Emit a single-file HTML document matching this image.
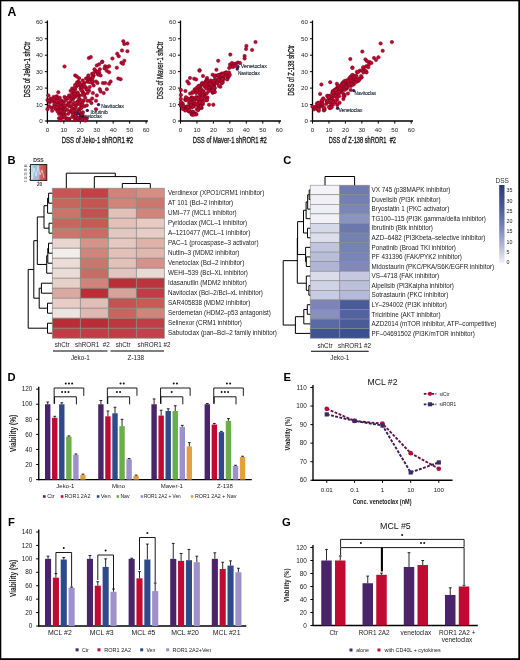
<!DOCTYPE html>
<html><head><meta charset="utf-8"><style>
html,body{margin:0;padding:0;background:#fff;}
body{width:520px;height:660px;overflow:hidden;position:relative;}
.frame{position:absolute;left:0;top:0;width:520px;height:660px;box-sizing:border-box;border-style:solid;border-color:#000;border-width:1.2px 2px 2px 1.2px;}
svg{position:absolute;left:0;top:0;filter:blur(0.35px);}
svg.brd{filter:none;}
text{font-family:"Liberation Sans", sans-serif;white-space:pre;}
</style></head><body>
<svg width="520" height="660" viewBox="0 0 520 660" shape-rendering="geometricPrecision">
<rect x="0" y="0" width="520" height="660" fill="#fff"/>
<text x="7.4" y="16.1" font-size="12.2" font-weight="bold" fill="#000">A</text>
<text x="7.60" y="164.30" font-size="11.2" text-anchor="start" fill="#000" font-weight="bold" >B</text>
<text x="283.30" y="164.30" font-size="11.2" text-anchor="start" fill="#000" font-weight="bold" >C</text>
<text x="7.60" y="380.70" font-size="11.2" text-anchor="start" fill="#000" font-weight="bold" >D</text>
<text x="283.40" y="381.00" font-size="11.2" text-anchor="start" fill="#000" font-weight="bold" >E</text>
<text x="8.00" y="526.30" font-size="11.2" text-anchor="start" fill="#000" font-weight="bold" >F</text>
<text x="282.00" y="526.30" font-size="11.2" text-anchor="start" fill="#000" font-weight="bold" >G</text>
<line x1="47.40" y1="121.60" x2="47.40" y2="20.50" stroke="#000" stroke-width="1.3" />
<line x1="46.80" y1="121.00" x2="147.90" y2="121.00" stroke="#000" stroke-width="1.3" />
<line x1="44.80" y1="121.00" x2="47.40" y2="121.00" stroke="#000" stroke-width="1.0" />
<text x="42.80" y="123.10" font-size="6.2" text-anchor="end" fill="#222" >0</text>
<line x1="47.40" y1="121.00" x2="47.40" y2="123.60" stroke="#000" stroke-width="1.0" />
<text x="47.40" y="132.30" font-size="6.2" text-anchor="middle" fill="#222" >0</text>
<line x1="44.80" y1="104.55" x2="47.40" y2="104.55" stroke="#000" stroke-width="1.0" />
<text x="42.80" y="106.65" font-size="6.2" text-anchor="end" fill="#222" >10</text>
<line x1="63.85" y1="121.00" x2="63.85" y2="123.60" stroke="#000" stroke-width="1.0" />
<text x="63.85" y="132.30" font-size="6.2" text-anchor="middle" fill="#222" >10</text>
<line x1="44.80" y1="88.10" x2="47.40" y2="88.10" stroke="#000" stroke-width="1.0" />
<text x="42.80" y="90.20" font-size="6.2" text-anchor="end" fill="#222" >20</text>
<line x1="80.30" y1="121.00" x2="80.30" y2="123.60" stroke="#000" stroke-width="1.0" />
<text x="80.30" y="132.30" font-size="6.2" text-anchor="middle" fill="#222" >20</text>
<line x1="44.80" y1="71.65" x2="47.40" y2="71.65" stroke="#000" stroke-width="1.0" />
<text x="42.80" y="73.75" font-size="6.2" text-anchor="end" fill="#222" >30</text>
<line x1="96.75" y1="121.00" x2="96.75" y2="123.60" stroke="#000" stroke-width="1.0" />
<text x="96.75" y="132.30" font-size="6.2" text-anchor="middle" fill="#222" >30</text>
<line x1="44.80" y1="55.20" x2="47.40" y2="55.20" stroke="#000" stroke-width="1.0" />
<text x="42.80" y="57.30" font-size="6.2" text-anchor="end" fill="#222" >40</text>
<line x1="113.20" y1="121.00" x2="113.20" y2="123.60" stroke="#000" stroke-width="1.0" />
<text x="113.20" y="132.30" font-size="6.2" text-anchor="middle" fill="#222" >40</text>
<line x1="44.80" y1="38.75" x2="47.40" y2="38.75" stroke="#000" stroke-width="1.0" />
<text x="42.80" y="40.85" font-size="6.2" text-anchor="end" fill="#222" >50</text>
<line x1="129.65" y1="121.00" x2="129.65" y2="123.60" stroke="#000" stroke-width="1.0" />
<text x="129.65" y="132.30" font-size="6.2" text-anchor="middle" fill="#222" >50</text>
<line x1="44.80" y1="22.30" x2="47.40" y2="22.30" stroke="#000" stroke-width="1.0" />
<text x="42.80" y="24.40" font-size="6.2" text-anchor="end" fill="#222" >60</text>
<line x1="146.10" y1="121.00" x2="146.10" y2="123.60" stroke="#000" stroke-width="1.0" />
<text x="146.10" y="132.30" font-size="6.2" text-anchor="middle" fill="#222" >60</text>
<text x="61.70" y="143.30" font-size="9.2" text-anchor="start" fill="#1a1a1a" textLength="71.50" lengthAdjust="spacingAndGlyphs" stroke="#1a1a1a" stroke-width="0.32">DSS of Jeko-1 shROR1 #2</text>
<text x="30.10" y="97.60" font-size="9.2" text-anchor="start" fill="#1a1a1a" textLength="55.80" lengthAdjust="spacingAndGlyphs" transform="rotate(-90 30.10 97.60)" stroke="#1a1a1a" stroke-width="0.32">DSS of Jeko-1 shCtr</text>
<line x1="180.50" y1="121.60" x2="180.50" y2="20.50" stroke="#000" stroke-width="1.3" />
<line x1="179.90" y1="121.00" x2="281.00" y2="121.00" stroke="#000" stroke-width="1.3" />
<line x1="177.90" y1="121.00" x2="180.50" y2="121.00" stroke="#000" stroke-width="1.0" />
<text x="175.90" y="123.10" font-size="6.2" text-anchor="end" fill="#222" >0</text>
<line x1="180.50" y1="121.00" x2="180.50" y2="123.60" stroke="#000" stroke-width="1.0" />
<text x="180.50" y="132.30" font-size="6.2" text-anchor="middle" fill="#222" >0</text>
<line x1="177.90" y1="104.55" x2="180.50" y2="104.55" stroke="#000" stroke-width="1.0" />
<text x="175.90" y="106.65" font-size="6.2" text-anchor="end" fill="#222" >10</text>
<line x1="196.95" y1="121.00" x2="196.95" y2="123.60" stroke="#000" stroke-width="1.0" />
<text x="196.95" y="132.30" font-size="6.2" text-anchor="middle" fill="#222" >10</text>
<line x1="177.90" y1="88.10" x2="180.50" y2="88.10" stroke="#000" stroke-width="1.0" />
<text x="175.90" y="90.20" font-size="6.2" text-anchor="end" fill="#222" >20</text>
<line x1="213.40" y1="121.00" x2="213.40" y2="123.60" stroke="#000" stroke-width="1.0" />
<text x="213.40" y="132.30" font-size="6.2" text-anchor="middle" fill="#222" >20</text>
<line x1="177.90" y1="71.65" x2="180.50" y2="71.65" stroke="#000" stroke-width="1.0" />
<text x="175.90" y="73.75" font-size="6.2" text-anchor="end" fill="#222" >30</text>
<line x1="229.85" y1="121.00" x2="229.85" y2="123.60" stroke="#000" stroke-width="1.0" />
<text x="229.85" y="132.30" font-size="6.2" text-anchor="middle" fill="#222" >30</text>
<line x1="177.90" y1="55.20" x2="180.50" y2="55.20" stroke="#000" stroke-width="1.0" />
<text x="175.90" y="57.30" font-size="6.2" text-anchor="end" fill="#222" >40</text>
<line x1="246.30" y1="121.00" x2="246.30" y2="123.60" stroke="#000" stroke-width="1.0" />
<text x="246.30" y="132.30" font-size="6.2" text-anchor="middle" fill="#222" >40</text>
<line x1="177.90" y1="38.75" x2="180.50" y2="38.75" stroke="#000" stroke-width="1.0" />
<text x="175.90" y="40.85" font-size="6.2" text-anchor="end" fill="#222" >50</text>
<line x1="262.75" y1="121.00" x2="262.75" y2="123.60" stroke="#000" stroke-width="1.0" />
<text x="262.75" y="132.30" font-size="6.2" text-anchor="middle" fill="#222" >50</text>
<line x1="177.90" y1="22.30" x2="180.50" y2="22.30" stroke="#000" stroke-width="1.0" />
<text x="175.90" y="24.40" font-size="6.2" text-anchor="end" fill="#222" >60</text>
<line x1="279.20" y1="121.00" x2="279.20" y2="123.60" stroke="#000" stroke-width="1.0" />
<text x="279.20" y="132.30" font-size="6.2" text-anchor="middle" fill="#222" >60</text>
<text x="192.70" y="143.30" font-size="9.2" text-anchor="start" fill="#1a1a1a" textLength="74.00" lengthAdjust="spacingAndGlyphs" stroke="#1a1a1a" stroke-width="0.32">DSS of Maver-1 shROR1 #2</text>
<text x="163.20" y="99.20" font-size="9.2" text-anchor="start" fill="#1a1a1a" textLength="57.60" lengthAdjust="spacingAndGlyphs" transform="rotate(-90 163.20 99.20)" stroke="#1a1a1a" stroke-width="0.32">DSS of Maver-1 shCtr</text>
<line x1="312.50" y1="121.60" x2="312.50" y2="20.50" stroke="#000" stroke-width="1.3" />
<line x1="311.90" y1="121.00" x2="413.00" y2="121.00" stroke="#000" stroke-width="1.3" />
<line x1="309.90" y1="121.00" x2="312.50" y2="121.00" stroke="#000" stroke-width="1.0" />
<text x="307.90" y="123.10" font-size="6.2" text-anchor="end" fill="#222" >0</text>
<line x1="312.50" y1="121.00" x2="312.50" y2="123.60" stroke="#000" stroke-width="1.0" />
<text x="312.50" y="132.30" font-size="6.2" text-anchor="middle" fill="#222" >0</text>
<line x1="309.90" y1="104.55" x2="312.50" y2="104.55" stroke="#000" stroke-width="1.0" />
<text x="307.90" y="106.65" font-size="6.2" text-anchor="end" fill="#222" >10</text>
<line x1="328.95" y1="121.00" x2="328.95" y2="123.60" stroke="#000" stroke-width="1.0" />
<text x="328.95" y="132.30" font-size="6.2" text-anchor="middle" fill="#222" >10</text>
<line x1="309.90" y1="88.10" x2="312.50" y2="88.10" stroke="#000" stroke-width="1.0" />
<text x="307.90" y="90.20" font-size="6.2" text-anchor="end" fill="#222" >20</text>
<line x1="345.40" y1="121.00" x2="345.40" y2="123.60" stroke="#000" stroke-width="1.0" />
<text x="345.40" y="132.30" font-size="6.2" text-anchor="middle" fill="#222" >20</text>
<line x1="309.90" y1="71.65" x2="312.50" y2="71.65" stroke="#000" stroke-width="1.0" />
<text x="307.90" y="73.75" font-size="6.2" text-anchor="end" fill="#222" >30</text>
<line x1="361.85" y1="121.00" x2="361.85" y2="123.60" stroke="#000" stroke-width="1.0" />
<text x="361.85" y="132.30" font-size="6.2" text-anchor="middle" fill="#222" >30</text>
<line x1="309.90" y1="55.20" x2="312.50" y2="55.20" stroke="#000" stroke-width="1.0" />
<text x="307.90" y="57.30" font-size="6.2" text-anchor="end" fill="#222" >40</text>
<line x1="378.30" y1="121.00" x2="378.30" y2="123.60" stroke="#000" stroke-width="1.0" />
<text x="378.30" y="132.30" font-size="6.2" text-anchor="middle" fill="#222" >40</text>
<line x1="309.90" y1="38.75" x2="312.50" y2="38.75" stroke="#000" stroke-width="1.0" />
<text x="307.90" y="40.85" font-size="6.2" text-anchor="end" fill="#222" >50</text>
<line x1="394.75" y1="121.00" x2="394.75" y2="123.60" stroke="#000" stroke-width="1.0" />
<text x="394.75" y="132.30" font-size="6.2" text-anchor="middle" fill="#222" >50</text>
<line x1="309.90" y1="22.30" x2="312.50" y2="22.30" stroke="#000" stroke-width="1.0" />
<text x="307.90" y="24.40" font-size="6.2" text-anchor="end" fill="#222" >60</text>
<line x1="411.20" y1="121.00" x2="411.20" y2="123.60" stroke="#000" stroke-width="1.0" />
<text x="411.20" y="132.30" font-size="6.2" text-anchor="middle" fill="#222" >60</text>
<text x="328.70" y="143.30" font-size="9.2" text-anchor="start" fill="#1a1a1a" textLength="67.30" lengthAdjust="spacingAndGlyphs" stroke="#1a1a1a" stroke-width="0.32">DSS of Z-138 shROR1  #2</text>
<text x="294.40" y="95.60" font-size="9.2" text-anchor="start" fill="#1a1a1a" textLength="50.60" lengthAdjust="spacingAndGlyphs" transform="rotate(-90 294.40 95.60)" stroke="#1a1a1a" stroke-width="0.32">DSS of Z-138 shCtr</text>
<circle cx="64.5" cy="66.5" r="1.75" fill="#c2052f" stroke="#6a061c" stroke-width="0.45"/>
<circle cx="96.8" cy="65.4" r="1.75" fill="#c2052f" stroke="#6a061c" stroke-width="0.45"/>
<circle cx="99.1" cy="64.3" r="1.75" fill="#c2052f" stroke="#6a061c" stroke-width="0.45"/>
<circle cx="102.2" cy="61.8" r="1.75" fill="#c2052f" stroke="#6a061c" stroke-width="0.45"/>
<circle cx="105.2" cy="66.2" r="1.75" fill="#c2052f" stroke="#6a061c" stroke-width="0.45"/>
<circle cx="107.5" cy="66.9" r="1.75" fill="#c2052f" stroke="#6a061c" stroke-width="0.45"/>
<circle cx="109.1" cy="66.2" r="1.75" fill="#c2052f" stroke="#6a061c" stroke-width="0.45"/>
<circle cx="116.8" cy="67.7" r="1.75" fill="#c2052f" stroke="#6a061c" stroke-width="0.45"/>
<circle cx="121.4" cy="62.8" r="1.75" fill="#c2052f" stroke="#6a061c" stroke-width="0.45"/>
<circle cx="104.5" cy="68.5" r="1.75" fill="#c2052f" stroke="#6a061c" stroke-width="0.45"/>
<circle cx="99.8" cy="69.2" r="1.75" fill="#c2052f" stroke="#6a061c" stroke-width="0.45"/>
<circle cx="106.8" cy="70.8" r="1.75" fill="#c2052f" stroke="#6a061c" stroke-width="0.45"/>
<circle cx="109.1" cy="72.3" r="1.75" fill="#c2052f" stroke="#6a061c" stroke-width="0.45"/>
<circle cx="95.2" cy="70.8" r="1.75" fill="#c2052f" stroke="#6a061c" stroke-width="0.45"/>
<circle cx="96.8" cy="72.3" r="1.75" fill="#c2052f" stroke="#6a061c" stroke-width="0.45"/>
<circle cx="98.3" cy="74.6" r="1.75" fill="#c2052f" stroke="#6a061c" stroke-width="0.45"/>
<circle cx="100.6" cy="75.4" r="1.75" fill="#c2052f" stroke="#6a061c" stroke-width="0.45"/>
<circle cx="93.7" cy="75.4" r="1.75" fill="#c2052f" stroke="#6a061c" stroke-width="0.45"/>
<circle cx="92.2" cy="77.7" r="1.75" fill="#c2052f" stroke="#6a061c" stroke-width="0.45"/>
<circle cx="90.6" cy="79.2" r="1.75" fill="#c2052f" stroke="#6a061c" stroke-width="0.45"/>
<circle cx="89.1" cy="80.0" r="1.75" fill="#c2052f" stroke="#6a061c" stroke-width="0.45"/>
<circle cx="87.5" cy="81.5" r="1.75" fill="#c2052f" stroke="#6a061c" stroke-width="0.45"/>
<circle cx="84.5" cy="83.1" r="1.75" fill="#c2052f" stroke="#6a061c" stroke-width="0.45"/>
<circle cx="82.9" cy="84.6" r="1.75" fill="#c2052f" stroke="#6a061c" stroke-width="0.45"/>
<circle cx="75.2" cy="75.4" r="1.75" fill="#c2052f" stroke="#6a061c" stroke-width="0.45"/>
<circle cx="76.8" cy="76.6" r="1.75" fill="#c2052f" stroke="#6a061c" stroke-width="0.45"/>
<circle cx="79.1" cy="78.2" r="1.75" fill="#c2052f" stroke="#6a061c" stroke-width="0.45"/>
<circle cx="86.0" cy="78.5" r="1.75" fill="#c2052f" stroke="#6a061c" stroke-width="0.45"/>
<circle cx="88.3" cy="76.9" r="1.75" fill="#c2052f" stroke="#6a061c" stroke-width="0.45"/>
<circle cx="92.2" cy="73.8" r="1.75" fill="#c2052f" stroke="#6a061c" stroke-width="0.45"/>
<circle cx="94.5" cy="69.2" r="1.75" fill="#c2052f" stroke="#6a061c" stroke-width="0.45"/>
<circle cx="118.3" cy="78.5" r="1.75" fill="#c2052f" stroke="#6a061c" stroke-width="0.45"/>
<circle cx="120.6" cy="79.2" r="1.75" fill="#c2052f" stroke="#6a061c" stroke-width="0.45"/>
<circle cx="102.9" cy="83.1" r="1.75" fill="#c2052f" stroke="#6a061c" stroke-width="0.45"/>
<circle cx="105.2" cy="83.1" r="1.75" fill="#c2052f" stroke="#6a061c" stroke-width="0.45"/>
<circle cx="109.1" cy="83.8" r="1.75" fill="#c2052f" stroke="#6a061c" stroke-width="0.45"/>
<circle cx="110.6" cy="81.5" r="1.75" fill="#c2052f" stroke="#6a061c" stroke-width="0.45"/>
<circle cx="106.8" cy="89.2" r="1.75" fill="#c2052f" stroke="#6a061c" stroke-width="0.45"/>
<circle cx="99.8" cy="89.2" r="1.75" fill="#c2052f" stroke="#6a061c" stroke-width="0.45"/>
<circle cx="100.6" cy="91.5" r="1.75" fill="#c2052f" stroke="#6a061c" stroke-width="0.45"/>
<circle cx="103.7" cy="93.1" r="1.75" fill="#c2052f" stroke="#6a061c" stroke-width="0.45"/>
<circle cx="96.0" cy="81.5" r="1.75" fill="#c2052f" stroke="#6a061c" stroke-width="0.45"/>
<circle cx="97.5" cy="83.1" r="1.75" fill="#c2052f" stroke="#6a061c" stroke-width="0.45"/>
<circle cx="92.2" cy="83.1" r="1.75" fill="#c2052f" stroke="#6a061c" stroke-width="0.45"/>
<circle cx="93.7" cy="85.4" r="1.75" fill="#c2052f" stroke="#6a061c" stroke-width="0.45"/>
<circle cx="89.8" cy="86.9" r="1.75" fill="#c2052f" stroke="#6a061c" stroke-width="0.45"/>
<circle cx="86.0" cy="87.7" r="1.75" fill="#c2052f" stroke="#6a061c" stroke-width="0.45"/>
<circle cx="81.4" cy="86.2" r="1.75" fill="#c2052f" stroke="#6a061c" stroke-width="0.45"/>
<circle cx="78.3" cy="81.5" r="1.75" fill="#c2052f" stroke="#6a061c" stroke-width="0.45"/>
<circle cx="79.8" cy="83.1" r="1.75" fill="#c2052f" stroke="#6a061c" stroke-width="0.45"/>
<circle cx="80.6" cy="88.5" r="1.75" fill="#c2052f" stroke="#6a061c" stroke-width="0.45"/>
<circle cx="76.8" cy="86.2" r="1.75" fill="#c2052f" stroke="#6a061c" stroke-width="0.45"/>
<circle cx="75.2" cy="89.2" r="1.75" fill="#c2052f" stroke="#6a061c" stroke-width="0.45"/>
<circle cx="72.2" cy="88.5" r="1.75" fill="#c2052f" stroke="#6a061c" stroke-width="0.45"/>
<circle cx="70.6" cy="90.8" r="1.75" fill="#c2052f" stroke="#6a061c" stroke-width="0.45"/>
<circle cx="73.7" cy="92.3" r="1.75" fill="#c2052f" stroke="#6a061c" stroke-width="0.45"/>
<circle cx="76.8" cy="93.8" r="1.75" fill="#c2052f" stroke="#6a061c" stroke-width="0.45"/>
<circle cx="79.1" cy="95.4" r="1.75" fill="#c2052f" stroke="#6a061c" stroke-width="0.45"/>
<circle cx="82.9" cy="92.3" r="1.75" fill="#c2052f" stroke="#6a061c" stroke-width="0.45"/>
<circle cx="84.5" cy="94.6" r="1.75" fill="#c2052f" stroke="#6a061c" stroke-width="0.45"/>
<circle cx="87.5" cy="93.1" r="1.75" fill="#c2052f" stroke="#6a061c" stroke-width="0.45"/>
<circle cx="89.1" cy="90.8" r="1.75" fill="#c2052f" stroke="#6a061c" stroke-width="0.45"/>
<circle cx="92.9" cy="93.1" r="1.75" fill="#c2052f" stroke="#6a061c" stroke-width="0.45"/>
<circle cx="96.8" cy="95.4" r="1.75" fill="#c2052f" stroke="#6a061c" stroke-width="0.45"/>
<circle cx="96.0" cy="100.8" r="1.75" fill="#c2052f" stroke="#6a061c" stroke-width="0.45"/>
<circle cx="92.2" cy="98.5" r="1.75" fill="#c2052f" stroke="#6a061c" stroke-width="0.45"/>
<circle cx="89.8" cy="100.8" r="1.75" fill="#c2052f" stroke="#6a061c" stroke-width="0.45"/>
<circle cx="91.4" cy="103.1" r="1.75" fill="#c2052f" stroke="#6a061c" stroke-width="0.45"/>
<circle cx="87.5" cy="100.8" r="1.75" fill="#c2052f" stroke="#6a061c" stroke-width="0.45"/>
<circle cx="85.2" cy="97.7" r="1.75" fill="#c2052f" stroke="#6a061c" stroke-width="0.45"/>
<circle cx="83.7" cy="100.8" r="1.75" fill="#c2052f" stroke="#6a061c" stroke-width="0.45"/>
<circle cx="82.2" cy="103.1" r="1.75" fill="#c2052f" stroke="#6a061c" stroke-width="0.45"/>
<circle cx="79.1" cy="98.5" r="1.75" fill="#c2052f" stroke="#6a061c" stroke-width="0.45"/>
<circle cx="77.5" cy="101.5" r="1.75" fill="#c2052f" stroke="#6a061c" stroke-width="0.45"/>
<circle cx="75.2" cy="96.9" r="1.75" fill="#c2052f" stroke="#6a061c" stroke-width="0.45"/>
<circle cx="72.9" cy="99.2" r="1.75" fill="#c2052f" stroke="#6a061c" stroke-width="0.45"/>
<circle cx="69.1" cy="95.4" r="1.75" fill="#c2052f" stroke="#6a061c" stroke-width="0.45"/>
<circle cx="64.5" cy="96.9" r="1.75" fill="#c2052f" stroke="#6a061c" stroke-width="0.45"/>
<circle cx="58.3" cy="92.3" r="1.75" fill="#c2052f" stroke="#6a061c" stroke-width="0.45"/>
<circle cx="59.8" cy="97.7" r="1.75" fill="#c2052f" stroke="#6a061c" stroke-width="0.45"/>
<circle cx="56.8" cy="96.2" r="1.75" fill="#c2052f" stroke="#6a061c" stroke-width="0.45"/>
<circle cx="53.7" cy="96.9" r="1.75" fill="#c2052f" stroke="#6a061c" stroke-width="0.45"/>
<circle cx="50.6" cy="98.5" r="1.75" fill="#c2052f" stroke="#6a061c" stroke-width="0.45"/>
<circle cx="48.3" cy="95.4" r="1.75" fill="#c2052f" stroke="#6a061c" stroke-width="0.45"/>
<circle cx="47.5" cy="100.0" r="1.75" fill="#c2052f" stroke="#6a061c" stroke-width="0.45"/>
<circle cx="49.8" cy="102.3" r="1.75" fill="#c2052f" stroke="#6a061c" stroke-width="0.45"/>
<circle cx="52.9" cy="100.8" r="1.75" fill="#c2052f" stroke="#6a061c" stroke-width="0.45"/>
<circle cx="55.2" cy="103.1" r="1.75" fill="#c2052f" stroke="#6a061c" stroke-width="0.45"/>
<circle cx="58.3" cy="102.3" r="1.75" fill="#c2052f" stroke="#6a061c" stroke-width="0.45"/>
<circle cx="61.4" cy="100.8" r="1.75" fill="#c2052f" stroke="#6a061c" stroke-width="0.45"/>
<circle cx="63.7" cy="102.3" r="1.75" fill="#c2052f" stroke="#6a061c" stroke-width="0.45"/>
<circle cx="66.0" cy="100.0" r="1.75" fill="#c2052f" stroke="#6a061c" stroke-width="0.45"/>
<circle cx="68.3" cy="103.1" r="1.75" fill="#c2052f" stroke="#6a061c" stroke-width="0.45"/>
<circle cx="70.6" cy="101.5" r="1.75" fill="#c2052f" stroke="#6a061c" stroke-width="0.45"/>
<circle cx="72.9" cy="104.6" r="1.75" fill="#c2052f" stroke="#6a061c" stroke-width="0.45"/>
<circle cx="76.0" cy="105.4" r="1.75" fill="#c2052f" stroke="#6a061c" stroke-width="0.45"/>
<circle cx="78.3" cy="103.8" r="1.75" fill="#c2052f" stroke="#6a061c" stroke-width="0.45"/>
<circle cx="81.4" cy="106.2" r="1.75" fill="#c2052f" stroke="#6a061c" stroke-width="0.45"/>
<circle cx="84.5" cy="106.2" r="1.75" fill="#c2052f" stroke="#6a061c" stroke-width="0.45"/>
<circle cx="86.8" cy="105.4" r="1.75" fill="#c2052f" stroke="#6a061c" stroke-width="0.45"/>
<circle cx="79.1" cy="109.2" r="1.75" fill="#c2052f" stroke="#6a061c" stroke-width="0.45"/>
<circle cx="76.8" cy="111.5" r="1.75" fill="#c2052f" stroke="#6a061c" stroke-width="0.45"/>
<circle cx="74.5" cy="108.5" r="1.75" fill="#c2052f" stroke="#6a061c" stroke-width="0.45"/>
<circle cx="71.4" cy="106.9" r="1.75" fill="#c2052f" stroke="#6a061c" stroke-width="0.45"/>
<circle cx="69.1" cy="106.2" r="1.75" fill="#c2052f" stroke="#6a061c" stroke-width="0.45"/>
<circle cx="66.0" cy="105.4" r="1.75" fill="#c2052f" stroke="#6a061c" stroke-width="0.45"/>
<circle cx="62.9" cy="106.2" r="1.75" fill="#c2052f" stroke="#6a061c" stroke-width="0.45"/>
<circle cx="60.6" cy="104.6" r="1.75" fill="#c2052f" stroke="#6a061c" stroke-width="0.45"/>
<circle cx="57.5" cy="106.2" r="1.75" fill="#c2052f" stroke="#6a061c" stroke-width="0.45"/>
<circle cx="54.5" cy="106.2" r="1.75" fill="#c2052f" stroke="#6a061c" stroke-width="0.45"/>
<circle cx="51.4" cy="107.7" r="1.75" fill="#c2052f" stroke="#6a061c" stroke-width="0.45"/>
<circle cx="49.1" cy="106.2" r="1.75" fill="#c2052f" stroke="#6a061c" stroke-width="0.45"/>
<circle cx="47.5" cy="109.2" r="1.75" fill="#c2052f" stroke="#6a061c" stroke-width="0.45"/>
<circle cx="52.2" cy="110.8" r="1.75" fill="#c2052f" stroke="#6a061c" stroke-width="0.45"/>
<circle cx="56.0" cy="109.2" r="1.75" fill="#c2052f" stroke="#6a061c" stroke-width="0.45"/>
<circle cx="59.1" cy="110.8" r="1.75" fill="#c2052f" stroke="#6a061c" stroke-width="0.45"/>
<circle cx="62.2" cy="109.2" r="1.75" fill="#c2052f" stroke="#6a061c" stroke-width="0.45"/>
<circle cx="64.5" cy="110.8" r="1.75" fill="#c2052f" stroke="#6a061c" stroke-width="0.45"/>
<circle cx="67.5" cy="110.0" r="1.75" fill="#c2052f" stroke="#6a061c" stroke-width="0.45"/>
<circle cx="70.6" cy="111.5" r="1.75" fill="#c2052f" stroke="#6a061c" stroke-width="0.45"/>
<circle cx="72.9" cy="113.1" r="1.75" fill="#c2052f" stroke="#6a061c" stroke-width="0.45"/>
<circle cx="68.3" cy="113.8" r="1.75" fill="#c2052f" stroke="#6a061c" stroke-width="0.45"/>
<circle cx="65.2" cy="114.6" r="1.75" fill="#c2052f" stroke="#6a061c" stroke-width="0.45"/>
<circle cx="61.4" cy="113.8" r="1.75" fill="#c2052f" stroke="#6a061c" stroke-width="0.45"/>
<circle cx="62.9" cy="117.7" r="1.75" fill="#c2052f" stroke="#6a061c" stroke-width="0.45"/>
<circle cx="66.0" cy="118.5" r="1.75" fill="#c2052f" stroke="#6a061c" stroke-width="0.45"/>
<circle cx="69.1" cy="119.2" r="1.75" fill="#c2052f" stroke="#6a061c" stroke-width="0.45"/>
<circle cx="72.2" cy="116.9" r="1.75" fill="#c2052f" stroke="#6a061c" stroke-width="0.45"/>
<circle cx="75.2" cy="120.0" r="1.75" fill="#c2052f" stroke="#6a061c" stroke-width="0.45"/>
<circle cx="78.3" cy="118.5" r="1.75" fill="#c2052f" stroke="#6a061c" stroke-width="0.45"/>
<circle cx="80.6" cy="113.8" r="1.75" fill="#c2052f" stroke="#6a061c" stroke-width="0.45"/>
<circle cx="82.9" cy="112.3" r="1.75" fill="#c2052f" stroke="#6a061c" stroke-width="0.45"/>
<circle cx="81.4" cy="116.9" r="1.75" fill="#c2052f" stroke="#6a061c" stroke-width="0.45"/>
<circle cx="84.5" cy="119.2" r="1.75" fill="#c2052f" stroke="#6a061c" stroke-width="0.45"/>
<circle cx="86.8" cy="118.5" r="1.75" fill="#c2052f" stroke="#6a061c" stroke-width="0.45"/>
<circle cx="96.0" cy="109.2" r="1.75" fill="#c2052f" stroke="#6a061c" stroke-width="0.45"/>
<circle cx="123.3" cy="41.2" r="1.75" fill="#c2052f" stroke="#6a061c" stroke-width="0.45"/>
<circle cx="124.3" cy="44.0" r="1.75" fill="#c2052f" stroke="#6a061c" stroke-width="0.45"/>
<circle cx="127.4" cy="43.5" r="1.75" fill="#c2052f" stroke="#6a061c" stroke-width="0.45"/>
<circle cx="122.0" cy="50.4" r="1.75" fill="#c2052f" stroke="#6a061c" stroke-width="0.45"/>
<circle cx="127.4" cy="51.2" r="1.75" fill="#c2052f" stroke="#6a061c" stroke-width="0.45"/>
<circle cx="117.2" cy="53.7" r="1.75" fill="#c2052f" stroke="#6a061c" stroke-width="0.45"/>
<circle cx="118.7" cy="56.2" r="1.75" fill="#c2052f" stroke="#6a061c" stroke-width="0.45"/>
<circle cx="112.4" cy="58.5" r="1.75" fill="#c2052f" stroke="#6a061c" stroke-width="0.45"/>
<circle cx="88.9" cy="58.1" r="1.75" fill="#c2052f" stroke="#6a061c" stroke-width="0.45"/>
<circle cx="90.8" cy="57.1" r="1.75" fill="#c2052f" stroke="#6a061c" stroke-width="0.45"/>
<circle cx="124.3" cy="60.8" r="1.75" fill="#c2052f" stroke="#6a061c" stroke-width="0.45"/>
<circle cx="123.0" cy="63.8" r="1.75" fill="#c2052f" stroke="#6a061c" stroke-width="0.45"/>
<circle cx="102.2" cy="61.9" r="1.75" fill="#c2052f" stroke="#6a061c" stroke-width="0.45"/>
<circle cx="80.5" cy="86.1" r="1.75" fill="#c2052f" stroke="#6a061c" stroke-width="0.45"/>
<circle cx="75.8" cy="111.5" r="1.75" fill="#c2052f" stroke="#6a061c" stroke-width="0.45"/>
<circle cx="84.4" cy="118.1" r="1.75" fill="#c2052f" stroke="#6a061c" stroke-width="0.45"/>
<circle cx="82.2" cy="87.8" r="1.75" fill="#c2052f" stroke="#6a061c" stroke-width="0.45"/>
<circle cx="71.0" cy="110.9" r="1.75" fill="#c2052f" stroke="#6a061c" stroke-width="0.45"/>
<circle cx="65.6" cy="98.0" r="1.75" fill="#c2052f" stroke="#6a061c" stroke-width="0.45"/>
<circle cx="84.8" cy="86.5" r="1.75" fill="#c2052f" stroke="#6a061c" stroke-width="0.45"/>
<circle cx="86.6" cy="89.5" r="1.75" fill="#c2052f" stroke="#6a061c" stroke-width="0.45"/>
<circle cx="71.2" cy="98.2" r="1.75" fill="#c2052f" stroke="#6a061c" stroke-width="0.45"/>
<circle cx="77.0" cy="82.5" r="1.75" fill="#c2052f" stroke="#6a061c" stroke-width="0.45"/>
<circle cx="68.3" cy="97.6" r="1.75" fill="#c2052f" stroke="#6a061c" stroke-width="0.45"/>
<circle cx="80.1" cy="114.1" r="1.75" fill="#c2052f" stroke="#6a061c" stroke-width="0.45"/>
<circle cx="88.6" cy="81.8" r="1.75" fill="#c2052f" stroke="#6a061c" stroke-width="0.45"/>
<circle cx="99.2" cy="72.5" r="1.75" fill="#c2052f" stroke="#6a061c" stroke-width="0.45"/>
<circle cx="75.6" cy="107.6" r="1.75" fill="#c2052f" stroke="#6a061c" stroke-width="0.45"/>
<circle cx="59.6" cy="102.8" r="1.75" fill="#c2052f" stroke="#6a061c" stroke-width="0.45"/>
<circle cx="82.4" cy="91.1" r="1.75" fill="#c2052f" stroke="#6a061c" stroke-width="0.45"/>
<circle cx="77.9" cy="102.5" r="1.75" fill="#c2052f" stroke="#6a061c" stroke-width="0.45"/>
<circle cx="60.5" cy="104.6" r="1.75" fill="#c2052f" stroke="#6a061c" stroke-width="0.45"/>
<circle cx="85.2" cy="120.6" r="1.75" fill="#c2052f" stroke="#6a061c" stroke-width="0.45"/>
<circle cx="92.5" cy="81.7" r="1.75" fill="#c2052f" stroke="#6a061c" stroke-width="0.45"/>
<circle cx="74.2" cy="102.8" r="1.75" fill="#c2052f" stroke="#6a061c" stroke-width="0.45"/>
<circle cx="60.5" cy="108.3" r="1.75" fill="#c2052f" stroke="#6a061c" stroke-width="0.45"/>
<circle cx="74.4" cy="113.9" r="1.75" fill="#c2052f" stroke="#6a061c" stroke-width="0.45"/>
<circle cx="81.1" cy="114.6" r="1.75" fill="#c2052f" stroke="#6a061c" stroke-width="0.45"/>
<circle cx="73.1" cy="114.6" r="1.75" fill="#c2052f" stroke="#6a061c" stroke-width="0.45"/>
<circle cx="98.2" cy="74.3" r="1.75" fill="#c2052f" stroke="#6a061c" stroke-width="0.45"/>
<circle cx="82.7" cy="80.5" r="1.75" fill="#c2052f" stroke="#6a061c" stroke-width="0.45"/>
<circle cx="73.5" cy="97.1" r="1.75" fill="#c2052f" stroke="#6a061c" stroke-width="0.45"/>
<circle cx="79.7" cy="100.0" r="1.75" fill="#c2052f" stroke="#6a061c" stroke-width="0.45"/>
<circle cx="74.5" cy="87.9" r="1.75" fill="#c2052f" stroke="#6a061c" stroke-width="0.45"/>
<circle cx="62.3" cy="100.9" r="1.75" fill="#c2052f" stroke="#6a061c" stroke-width="0.45"/>
<circle cx="59.1" cy="114.1" r="1.75" fill="#c2052f" stroke="#6a061c" stroke-width="0.45"/>
<circle cx="77.6" cy="92.6" r="1.75" fill="#c2052f" stroke="#6a061c" stroke-width="0.45"/>
<circle cx="92.8" cy="74.9" r="1.75" fill="#c2052f" stroke="#6a061c" stroke-width="0.45"/>
<circle cx="59.0" cy="118.3" r="1.75" fill="#c2052f" stroke="#6a061c" stroke-width="0.45"/>
<circle cx="80.2" cy="119.8" r="1.75" fill="#c2052f" stroke="#6a061c" stroke-width="0.45"/>
<circle cx="65.0" cy="108.5" r="1.75" fill="#c2052f" stroke="#6a061c" stroke-width="0.45"/>
<circle cx="80.4" cy="108.8" r="1.75" fill="#c2052f" stroke="#6a061c" stroke-width="0.45"/>
<circle cx="68.9" cy="104.1" r="1.75" fill="#c2052f" stroke="#6a061c" stroke-width="0.45"/>
<circle cx="61.6" cy="102.3" r="1.75" fill="#c2052f" stroke="#6a061c" stroke-width="0.45"/>
<circle cx="65.5" cy="109.4" r="1.75" fill="#c2052f" stroke="#6a061c" stroke-width="0.45"/>
<circle cx="72.0" cy="110.0" r="1.75" fill="#c2052f" stroke="#6a061c" stroke-width="0.45"/>
<circle cx="74.9" cy="118.1" r="1.75" fill="#c2052f" stroke="#6a061c" stroke-width="0.45"/>
<circle cx="88.4" cy="75.4" r="1.75" fill="#c2052f" stroke="#6a061c" stroke-width="0.45"/>
<circle cx="64.1" cy="111.5" r="1.75" fill="#c2052f" stroke="#6a061c" stroke-width="0.45"/>
<circle cx="72.7" cy="96.2" r="1.75" fill="#c2052f" stroke="#6a061c" stroke-width="0.45"/>
<circle cx="80.1" cy="117.3" r="1.75" fill="#c2052f" stroke="#6a061c" stroke-width="0.45"/>
<circle cx="76.2" cy="113.9" r="1.75" fill="#c2052f" stroke="#6a061c" stroke-width="0.45"/>
<circle cx="92.7" cy="77.6" r="1.75" fill="#c2052f" stroke="#6a061c" stroke-width="0.45"/>
<circle cx="68.1" cy="98.3" r="1.75" fill="#c2052f" stroke="#6a061c" stroke-width="0.45"/>
<circle cx="63.5" cy="116.1" r="1.75" fill="#c2052f" stroke="#6a061c" stroke-width="0.45"/>
<circle cx="72.9" cy="91.2" r="1.75" fill="#c2052f" stroke="#6a061c" stroke-width="0.45"/>
<circle cx="82.5" cy="115.7" r="1.75" fill="#c2052f" stroke="#6a061c" stroke-width="0.45"/>
<circle cx="75.7" cy="116.5" r="1.75" fill="#c2052f" stroke="#6a061c" stroke-width="0.45"/>
<circle cx="79.1" cy="95.3" r="1.75" fill="#c2052f" stroke="#6a061c" stroke-width="0.45"/>
<circle cx="71.7" cy="94.5" r="1.75" fill="#c2052f" stroke="#6a061c" stroke-width="0.45"/>
<circle cx="81.6" cy="107.8" r="1.75" fill="#c2052f" stroke="#6a061c" stroke-width="0.45"/>
<circle cx="83.7" cy="93.8" r="1.75" fill="#c2052f" stroke="#6a061c" stroke-width="0.45"/>
<circle cx="79.5" cy="104.1" r="1.75" fill="#c2052f" stroke="#6a061c" stroke-width="0.45"/>
<circle cx="77.0" cy="95.3" r="1.75" fill="#c2052f" stroke="#6a061c" stroke-width="0.45"/>
<circle cx="78.1" cy="117.8" r="1.75" fill="#c2052f" stroke="#6a061c" stroke-width="0.45"/>
<circle cx="81.5" cy="117.9" r="1.75" fill="#c2052f" stroke="#6a061c" stroke-width="0.45"/>
<circle cx="93.3" cy="73.5" r="1.75" fill="#c2052f" stroke="#6a061c" stroke-width="0.45"/>
<circle cx="61.1" cy="102.8" r="1.75" fill="#c2052f" stroke="#6a061c" stroke-width="0.45"/>
<circle cx="64.5" cy="105.4" r="1.75" fill="#c2052f" stroke="#6a061c" stroke-width="0.45"/>
<circle cx="67.2" cy="118.4" r="1.75" fill="#c2052f" stroke="#6a061c" stroke-width="0.45"/>
<circle cx="74.7" cy="92.8" r="1.75" fill="#c2052f" stroke="#6a061c" stroke-width="0.45"/>
<circle cx="79.7" cy="84.7" r="1.75" fill="#c2052f" stroke="#6a061c" stroke-width="0.45"/>
<circle cx="81.3" cy="90.2" r="1.75" fill="#c2052f" stroke="#6a061c" stroke-width="0.45"/>
<circle cx="84.2" cy="94.2" r="1.75" fill="#c2052f" stroke="#6a061c" stroke-width="0.45"/>
<circle cx="60.7" cy="120.2" r="1.75" fill="#c2052f" stroke="#6a061c" stroke-width="0.45"/>
<circle cx="59.7" cy="108.8" r="1.75" fill="#c2052f" stroke="#6a061c" stroke-width="0.45"/>
<circle cx="75.7" cy="116.1" r="1.75" fill="#c2052f" stroke="#6a061c" stroke-width="0.45"/>
<circle cx="92.4" cy="80.2" r="1.75" fill="#c2052f" stroke="#6a061c" stroke-width="0.45"/>
<circle cx="64.3" cy="116.6" r="1.75" fill="#c2052f" stroke="#6a061c" stroke-width="0.45"/>
<circle cx="82.0" cy="104.5" r="1.75" fill="#c2052f" stroke="#6a061c" stroke-width="0.45"/>
<circle cx="86.9" cy="89.4" r="1.75" fill="#c2052f" stroke="#6a061c" stroke-width="0.45"/>
<circle cx="61.0" cy="117.6" r="1.75" fill="#c2052f" stroke="#6a061c" stroke-width="0.45"/>
<circle cx="61.5" cy="113.1" r="1.75" fill="#c2052f" stroke="#6a061c" stroke-width="0.45"/>
<circle cx="60.8" cy="113.5" r="1.75" fill="#c2052f" stroke="#6a061c" stroke-width="0.45"/>
<circle cx="77.1" cy="84.7" r="1.75" fill="#c2052f" stroke="#6a061c" stroke-width="0.45"/>
<circle cx="81.2" cy="117.0" r="1.75" fill="#c2052f" stroke="#6a061c" stroke-width="0.45"/>
<circle cx="89.9" cy="81.9" r="1.75" fill="#c2052f" stroke="#6a061c" stroke-width="0.45"/>
<circle cx="97.3" cy="71.8" r="1.75" fill="#c2052f" stroke="#6a061c" stroke-width="0.45"/>
<circle cx="78.8" cy="111.9" r="1.75" fill="#c2052f" stroke="#6a061c" stroke-width="0.45"/>
<circle cx="74.5" cy="93.9" r="1.75" fill="#c2052f" stroke="#6a061c" stroke-width="0.45"/>
<circle cx="72.4" cy="111.8" r="1.75" fill="#c2052f" stroke="#6a061c" stroke-width="0.45"/>
<circle cx="75.0" cy="85.1" r="1.75" fill="#c2052f" stroke="#6a061c" stroke-width="0.45"/>
<circle cx="61.0" cy="106.7" r="1.75" fill="#c2052f" stroke="#6a061c" stroke-width="0.45"/>
<circle cx="61.5" cy="112.3" r="1.75" fill="#c2052f" stroke="#6a061c" stroke-width="0.45"/>
<circle cx="69.1" cy="118.9" r="1.75" fill="#c2052f" stroke="#6a061c" stroke-width="0.45"/>
<circle cx="68.3" cy="119.1" r="1.75" fill="#c2052f" stroke="#6a061c" stroke-width="0.45"/>
<circle cx="77.9" cy="93.7" r="1.75" fill="#c2052f" stroke="#6a061c" stroke-width="0.45"/>
<circle cx="82.6" cy="95.1" r="1.75" fill="#c2052f" stroke="#6a061c" stroke-width="0.45"/>
<circle cx="59.8" cy="111.9" r="1.75" fill="#c2052f" stroke="#6a061c" stroke-width="0.45"/>
<circle cx="79.2" cy="111.9" r="1.75" fill="#c2052f" stroke="#6a061c" stroke-width="0.45"/>
<circle cx="82.5" cy="115.1" r="1.75" fill="#c2052f" stroke="#6a061c" stroke-width="0.45"/>
<circle cx="62.4" cy="112.0" r="1.75" fill="#c2052f" stroke="#6a061c" stroke-width="0.45"/>
<circle cx="81.5" cy="100.5" r="1.75" fill="#c2052f" stroke="#6a061c" stroke-width="0.45"/>
<circle cx="56.1" cy="107.2" r="1.75" fill="#c2052f" stroke="#6a061c" stroke-width="0.45"/>
<circle cx="58.4" cy="108.2" r="1.75" fill="#c2052f" stroke="#6a061c" stroke-width="0.45"/>
<circle cx="54.5" cy="105.0" r="1.75" fill="#c2052f" stroke="#6a061c" stroke-width="0.45"/>
<circle cx="56.6" cy="98.0" r="1.75" fill="#c2052f" stroke="#6a061c" stroke-width="0.45"/>
<circle cx="57.6" cy="100.8" r="1.75" fill="#c2052f" stroke="#6a061c" stroke-width="0.45"/>
<circle cx="49.0" cy="101.0" r="1.75" fill="#c2052f" stroke="#6a061c" stroke-width="0.45"/>
<circle cx="57.5" cy="100.1" r="1.75" fill="#c2052f" stroke="#6a061c" stroke-width="0.45"/>
<circle cx="57.6" cy="111.6" r="1.75" fill="#c2052f" stroke="#6a061c" stroke-width="0.45"/>
<circle cx="54.4" cy="102.7" r="1.75" fill="#c2052f" stroke="#6a061c" stroke-width="0.45"/>
<circle cx="54.2" cy="107.3" r="1.75" fill="#c2052f" stroke="#6a061c" stroke-width="0.45"/>
<circle cx="58.0" cy="106.3" r="1.75" fill="#c2052f" stroke="#6a061c" stroke-width="0.45"/>
<circle cx="56.4" cy="98.2" r="1.75" fill="#c2052f" stroke="#6a061c" stroke-width="0.45"/>
<circle cx="49.9" cy="100.8" r="1.75" fill="#c2052f" stroke="#6a061c" stroke-width="0.45"/>
<circle cx="57.7" cy="101.6" r="1.75" fill="#c2052f" stroke="#6a061c" stroke-width="0.45"/>
<circle cx="55.4" cy="97.2" r="1.75" fill="#c2052f" stroke="#6a061c" stroke-width="0.45"/>
<circle cx="48.8" cy="101.0" r="1.75" fill="#c2052f" stroke="#6a061c" stroke-width="0.45"/>
<circle cx="56.7" cy="107.4" r="1.75" fill="#c2052f" stroke="#6a061c" stroke-width="0.45"/>
<circle cx="56.8" cy="101.4" r="1.75" fill="#c2052f" stroke="#6a061c" stroke-width="0.45"/>
<circle cx="54.7" cy="104.0" r="1.75" fill="#c2052f" stroke="#6a061c" stroke-width="0.45"/>
<circle cx="54.1" cy="98.8" r="1.75" fill="#c2052f" stroke="#6a061c" stroke-width="0.45"/>
<circle cx="59.6" cy="100.0" r="1.75" fill="#c2052f" stroke="#6a061c" stroke-width="0.45"/>
<circle cx="60.7" cy="111.0" r="1.75" fill="#c2052f" stroke="#6a061c" stroke-width="0.45"/>
<circle cx="98.5" cy="104.6" r="1.7" fill="#34205a"/>
<circle cx="87.3" cy="110.4" r="1.7" fill="#34205a"/>
<circle cx="77.5" cy="113.6" r="1.7" fill="#34205a"/>
<text x="101.2" y="107.5" font-size="5.8" fill="#14202e" stroke="#14202e" stroke-width="0.15" textLength="22.8" lengthAdjust="spacingAndGlyphs">Navitoclax</text>
<text x="90.6" y="113.8" font-size="5.8" fill="#14202e" stroke="#14202e" stroke-width="0.15" textLength="17.2" lengthAdjust="spacingAndGlyphs">Ibrutinib</text>
<text x="79.3" y="117.8" font-size="5.8" fill="#14202e" stroke="#14202e" stroke-width="0.15" textLength="22.5" lengthAdjust="spacingAndGlyphs">Venetoclax</text>
<circle cx="255.5" cy="42.1" r="1.75" fill="#c2052f" stroke="#6a061c" stroke-width="0.45"/>
<circle cx="246.4" cy="45.9" r="1.75" fill="#c2052f" stroke="#6a061c" stroke-width="0.45"/>
<circle cx="246.0" cy="49.0" r="1.75" fill="#c2052f" stroke="#6a061c" stroke-width="0.45"/>
<circle cx="252.1" cy="49.9" r="1.75" fill="#c2052f" stroke="#6a061c" stroke-width="0.45"/>
<circle cx="244.6" cy="56.0" r="1.75" fill="#c2052f" stroke="#6a061c" stroke-width="0.45"/>
<circle cx="244.6" cy="58.6" r="1.75" fill="#c2052f" stroke="#6a061c" stroke-width="0.45"/>
<circle cx="230.3" cy="54.6" r="1.75" fill="#c2052f" stroke="#6a061c" stroke-width="0.45"/>
<circle cx="218.2" cy="60.8" r="1.75" fill="#c2052f" stroke="#6a061c" stroke-width="0.45"/>
<circle cx="199.6" cy="70.2" r="1.75" fill="#c2052f" stroke="#6a061c" stroke-width="0.45"/>
<circle cx="216.4" cy="69.8" r="1.75" fill="#c2052f" stroke="#6a061c" stroke-width="0.45"/>
<circle cx="229.2" cy="67.9" r="1.75" fill="#c2052f" stroke="#6a061c" stroke-width="0.45"/>
<circle cx="227.5" cy="78.8" r="1.75" fill="#c2052f" stroke="#6a061c" stroke-width="0.45"/>
<circle cx="230.0" cy="64.5" r="1.75" fill="#c2052f" stroke="#6a061c" stroke-width="0.45"/>
<circle cx="232.0" cy="63.0" r="1.75" fill="#c2052f" stroke="#6a061c" stroke-width="0.45"/>
<circle cx="234.0" cy="64.0" r="1.75" fill="#c2052f" stroke="#6a061c" stroke-width="0.45"/>
<circle cx="236.0" cy="63.5" r="1.75" fill="#c2052f" stroke="#6a061c" stroke-width="0.45"/>
<circle cx="238.0" cy="62.5" r="1.75" fill="#c2052f" stroke="#6a061c" stroke-width="0.45"/>
<circle cx="240.0" cy="63.0" r="1.75" fill="#c2052f" stroke="#6a061c" stroke-width="0.45"/>
<circle cx="231.0" cy="66.5" r="1.75" fill="#c2052f" stroke="#6a061c" stroke-width="0.45"/>
<circle cx="233.0" cy="67.0" r="1.75" fill="#c2052f" stroke="#6a061c" stroke-width="0.45"/>
<circle cx="235.0" cy="66.0" r="1.75" fill="#c2052f" stroke="#6a061c" stroke-width="0.45"/>
<circle cx="187.4" cy="81.4" r="1.75" fill="#c2052f" stroke="#6a061c" stroke-width="0.45"/>
<circle cx="188.8" cy="83.5" r="1.75" fill="#c2052f" stroke="#6a061c" stroke-width="0.45"/>
<circle cx="194.2" cy="78.7" r="1.75" fill="#c2052f" stroke="#6a061c" stroke-width="0.45"/>
<circle cx="196.2" cy="79.4" r="1.75" fill="#c2052f" stroke="#6a061c" stroke-width="0.45"/>
<circle cx="185.4" cy="90.9" r="1.75" fill="#c2052f" stroke="#6a061c" stroke-width="0.45"/>
<circle cx="209.0" cy="104.7" r="1.75" fill="#c2052f" stroke="#6a061c" stroke-width="0.45"/>
<circle cx="213.3" cy="104.7" r="1.75" fill="#c2052f" stroke="#6a061c" stroke-width="0.45"/>
<circle cx="227.1" cy="79.4" r="1.75" fill="#c2052f" stroke="#6a061c" stroke-width="0.45"/>
<circle cx="220.4" cy="86.8" r="1.75" fill="#c2052f" stroke="#6a061c" stroke-width="0.45"/>
<circle cx="214.3" cy="91.5" r="1.75" fill="#c2052f" stroke="#6a061c" stroke-width="0.45"/>
<circle cx="199.5" cy="70.7" r="1.75" fill="#c2052f" stroke="#6a061c" stroke-width="0.45"/>
<circle cx="180.9" cy="90.0" r="1.75" fill="#c2052f" stroke="#6a061c" stroke-width="0.45"/>
<circle cx="180.9" cy="95.0" r="1.75" fill="#c2052f" stroke="#6a061c" stroke-width="0.45"/>
<circle cx="180.9" cy="99.0" r="1.75" fill="#c2052f" stroke="#6a061c" stroke-width="0.45"/>
<circle cx="212.6" cy="74.7" r="1.75" fill="#c2052f" stroke="#6a061c" stroke-width="0.45"/>
<circle cx="215.0" cy="75.5" r="1.75" fill="#c2052f" stroke="#6a061c" stroke-width="0.45"/>
<circle cx="217.5" cy="75.8" r="1.75" fill="#c2052f" stroke="#6a061c" stroke-width="0.45"/>
<circle cx="220.0" cy="74.5" r="1.75" fill="#c2052f" stroke="#6a061c" stroke-width="0.45"/>
<circle cx="222.0" cy="73.5" r="1.75" fill="#c2052f" stroke="#6a061c" stroke-width="0.45"/>
<circle cx="224.5" cy="73.0" r="1.75" fill="#c2052f" stroke="#6a061c" stroke-width="0.45"/>
<circle cx="226.0" cy="75.0" r="1.75" fill="#c2052f" stroke="#6a061c" stroke-width="0.45"/>
<circle cx="190.0" cy="78.0" r="1.75" fill="#c2052f" stroke="#6a061c" stroke-width="0.45"/>
<circle cx="203.0" cy="76.0" r="1.75" fill="#c2052f" stroke="#6a061c" stroke-width="0.45"/>
<circle cx="207.0" cy="78.0" r="1.75" fill="#c2052f" stroke="#6a061c" stroke-width="0.45"/>
<circle cx="203.7" cy="83.4" r="1.75" fill="#c2052f" stroke="#6a061c" stroke-width="0.45"/>
<circle cx="191.4" cy="113.9" r="1.75" fill="#c2052f" stroke="#6a061c" stroke-width="0.45"/>
<circle cx="191.5" cy="97.5" r="1.75" fill="#c2052f" stroke="#6a061c" stroke-width="0.45"/>
<circle cx="192.5" cy="111.8" r="1.75" fill="#c2052f" stroke="#6a061c" stroke-width="0.45"/>
<circle cx="203.7" cy="84.9" r="1.75" fill="#c2052f" stroke="#6a061c" stroke-width="0.45"/>
<circle cx="196.9" cy="109.2" r="1.75" fill="#c2052f" stroke="#6a061c" stroke-width="0.45"/>
<circle cx="180.8" cy="105.2" r="1.75" fill="#c2052f" stroke="#6a061c" stroke-width="0.45"/>
<circle cx="223.6" cy="76.7" r="1.75" fill="#c2052f" stroke="#6a061c" stroke-width="0.45"/>
<circle cx="199.7" cy="89.0" r="1.75" fill="#c2052f" stroke="#6a061c" stroke-width="0.45"/>
<circle cx="199.1" cy="90.6" r="1.75" fill="#c2052f" stroke="#6a061c" stroke-width="0.45"/>
<circle cx="185.9" cy="108.9" r="1.75" fill="#c2052f" stroke="#6a061c" stroke-width="0.45"/>
<circle cx="195.3" cy="113.5" r="1.75" fill="#c2052f" stroke="#6a061c" stroke-width="0.45"/>
<circle cx="206.8" cy="79.9" r="1.75" fill="#c2052f" stroke="#6a061c" stroke-width="0.45"/>
<circle cx="228.1" cy="77.0" r="1.75" fill="#c2052f" stroke="#6a061c" stroke-width="0.45"/>
<circle cx="204.8" cy="86.8" r="1.75" fill="#c2052f" stroke="#6a061c" stroke-width="0.45"/>
<circle cx="195.9" cy="104.6" r="1.75" fill="#c2052f" stroke="#6a061c" stroke-width="0.45"/>
<circle cx="214.2" cy="84.9" r="1.75" fill="#c2052f" stroke="#6a061c" stroke-width="0.45"/>
<circle cx="209.2" cy="89.1" r="1.75" fill="#c2052f" stroke="#6a061c" stroke-width="0.45"/>
<circle cx="191.3" cy="112.2" r="1.75" fill="#c2052f" stroke="#6a061c" stroke-width="0.45"/>
<circle cx="206.1" cy="81.2" r="1.75" fill="#c2052f" stroke="#6a061c" stroke-width="0.45"/>
<circle cx="201.8" cy="94.9" r="1.75" fill="#c2052f" stroke="#6a061c" stroke-width="0.45"/>
<circle cx="200.0" cy="86.6" r="1.75" fill="#c2052f" stroke="#6a061c" stroke-width="0.45"/>
<circle cx="206.4" cy="99.7" r="1.75" fill="#c2052f" stroke="#6a061c" stroke-width="0.45"/>
<circle cx="201.1" cy="91.4" r="1.75" fill="#c2052f" stroke="#6a061c" stroke-width="0.45"/>
<circle cx="182.3" cy="103.3" r="1.75" fill="#c2052f" stroke="#6a061c" stroke-width="0.45"/>
<circle cx="204.1" cy="96.2" r="1.75" fill="#c2052f" stroke="#6a061c" stroke-width="0.45"/>
<circle cx="182.7" cy="106.6" r="1.75" fill="#c2052f" stroke="#6a061c" stroke-width="0.45"/>
<circle cx="192.6" cy="112.8" r="1.75" fill="#c2052f" stroke="#6a061c" stroke-width="0.45"/>
<circle cx="213.7" cy="85.0" r="1.75" fill="#c2052f" stroke="#6a061c" stroke-width="0.45"/>
<circle cx="207.5" cy="97.6" r="1.75" fill="#c2052f" stroke="#6a061c" stroke-width="0.45"/>
<circle cx="196.1" cy="92.1" r="1.75" fill="#c2052f" stroke="#6a061c" stroke-width="0.45"/>
<circle cx="202.2" cy="82.9" r="1.75" fill="#c2052f" stroke="#6a061c" stroke-width="0.45"/>
<circle cx="198.0" cy="90.3" r="1.75" fill="#c2052f" stroke="#6a061c" stroke-width="0.45"/>
<circle cx="215.6" cy="80.2" r="1.75" fill="#c2052f" stroke="#6a061c" stroke-width="0.45"/>
<circle cx="206.5" cy="80.6" r="1.75" fill="#c2052f" stroke="#6a061c" stroke-width="0.45"/>
<circle cx="222.6" cy="81.7" r="1.75" fill="#c2052f" stroke="#6a061c" stroke-width="0.45"/>
<circle cx="192.0" cy="105.6" r="1.75" fill="#c2052f" stroke="#6a061c" stroke-width="0.45"/>
<circle cx="195.8" cy="114.2" r="1.75" fill="#c2052f" stroke="#6a061c" stroke-width="0.45"/>
<circle cx="214.7" cy="88.4" r="1.75" fill="#c2052f" stroke="#6a061c" stroke-width="0.45"/>
<circle cx="199.8" cy="86.3" r="1.75" fill="#c2052f" stroke="#6a061c" stroke-width="0.45"/>
<circle cx="198.9" cy="108.4" r="1.75" fill="#c2052f" stroke="#6a061c" stroke-width="0.45"/>
<circle cx="226.5" cy="72.7" r="1.75" fill="#c2052f" stroke="#6a061c" stroke-width="0.45"/>
<circle cx="201.7" cy="107.9" r="1.75" fill="#c2052f" stroke="#6a061c" stroke-width="0.45"/>
<circle cx="194.1" cy="103.6" r="1.75" fill="#c2052f" stroke="#6a061c" stroke-width="0.45"/>
<circle cx="180.9" cy="105.4" r="1.75" fill="#c2052f" stroke="#6a061c" stroke-width="0.45"/>
<circle cx="228.9" cy="72.4" r="1.75" fill="#c2052f" stroke="#6a061c" stroke-width="0.45"/>
<circle cx="192.7" cy="92.7" r="1.75" fill="#c2052f" stroke="#6a061c" stroke-width="0.45"/>
<circle cx="202.7" cy="93.6" r="1.75" fill="#c2052f" stroke="#6a061c" stroke-width="0.45"/>
<circle cx="211.7" cy="86.1" r="1.75" fill="#c2052f" stroke="#6a061c" stroke-width="0.45"/>
<circle cx="197.0" cy="87.6" r="1.75" fill="#c2052f" stroke="#6a061c" stroke-width="0.45"/>
<circle cx="220.7" cy="74.9" r="1.75" fill="#c2052f" stroke="#6a061c" stroke-width="0.45"/>
<circle cx="190.8" cy="105.3" r="1.75" fill="#c2052f" stroke="#6a061c" stroke-width="0.45"/>
<circle cx="214.7" cy="76.8" r="1.75" fill="#c2052f" stroke="#6a061c" stroke-width="0.45"/>
<circle cx="209.7" cy="88.1" r="1.75" fill="#c2052f" stroke="#6a061c" stroke-width="0.45"/>
<circle cx="218.4" cy="80.3" r="1.75" fill="#c2052f" stroke="#6a061c" stroke-width="0.45"/>
<circle cx="188.5" cy="111.2" r="1.75" fill="#c2052f" stroke="#6a061c" stroke-width="0.45"/>
<circle cx="210.3" cy="86.0" r="1.75" fill="#c2052f" stroke="#6a061c" stroke-width="0.45"/>
<circle cx="206.6" cy="81.7" r="1.75" fill="#c2052f" stroke="#6a061c" stroke-width="0.45"/>
<circle cx="194.0" cy="106.4" r="1.75" fill="#c2052f" stroke="#6a061c" stroke-width="0.45"/>
<circle cx="229.0" cy="76.1" r="1.75" fill="#c2052f" stroke="#6a061c" stroke-width="0.45"/>
<circle cx="193.7" cy="98.3" r="1.75" fill="#c2052f" stroke="#6a061c" stroke-width="0.45"/>
<circle cx="214.0" cy="80.5" r="1.75" fill="#c2052f" stroke="#6a061c" stroke-width="0.45"/>
<circle cx="215.4" cy="79.7" r="1.75" fill="#c2052f" stroke="#6a061c" stroke-width="0.45"/>
<circle cx="200.9" cy="96.1" r="1.75" fill="#c2052f" stroke="#6a061c" stroke-width="0.45"/>
<circle cx="189.1" cy="102.7" r="1.75" fill="#c2052f" stroke="#6a061c" stroke-width="0.45"/>
<circle cx="201.6" cy="84.1" r="1.75" fill="#c2052f" stroke="#6a061c" stroke-width="0.45"/>
<circle cx="196.4" cy="114.3" r="1.75" fill="#c2052f" stroke="#6a061c" stroke-width="0.45"/>
<circle cx="196.7" cy="96.9" r="1.75" fill="#c2052f" stroke="#6a061c" stroke-width="0.45"/>
<circle cx="199.0" cy="90.1" r="1.75" fill="#c2052f" stroke="#6a061c" stroke-width="0.45"/>
<circle cx="217.9" cy="80.5" r="1.75" fill="#c2052f" stroke="#6a061c" stroke-width="0.45"/>
<circle cx="185.2" cy="99.4" r="1.75" fill="#c2052f" stroke="#6a061c" stroke-width="0.45"/>
<circle cx="199.7" cy="94.1" r="1.75" fill="#c2052f" stroke="#6a061c" stroke-width="0.45"/>
<circle cx="222.8" cy="78.5" r="1.75" fill="#c2052f" stroke="#6a061c" stroke-width="0.45"/>
<circle cx="220.9" cy="81.3" r="1.75" fill="#c2052f" stroke="#6a061c" stroke-width="0.45"/>
<circle cx="223.1" cy="79.6" r="1.75" fill="#c2052f" stroke="#6a061c" stroke-width="0.45"/>
<circle cx="207.2" cy="88.6" r="1.75" fill="#c2052f" stroke="#6a061c" stroke-width="0.45"/>
<circle cx="223.5" cy="76.6" r="1.75" fill="#c2052f" stroke="#6a061c" stroke-width="0.45"/>
<circle cx="212.7" cy="85.1" r="1.75" fill="#c2052f" stroke="#6a061c" stroke-width="0.45"/>
<circle cx="202.2" cy="97.6" r="1.75" fill="#c2052f" stroke="#6a061c" stroke-width="0.45"/>
<circle cx="202.5" cy="101.0" r="1.75" fill="#c2052f" stroke="#6a061c" stroke-width="0.45"/>
<circle cx="203.5" cy="91.1" r="1.75" fill="#c2052f" stroke="#6a061c" stroke-width="0.45"/>
<circle cx="205.7" cy="81.9" r="1.75" fill="#c2052f" stroke="#6a061c" stroke-width="0.45"/>
<circle cx="206.5" cy="88.3" r="1.75" fill="#c2052f" stroke="#6a061c" stroke-width="0.45"/>
<circle cx="219.3" cy="78.5" r="1.75" fill="#c2052f" stroke="#6a061c" stroke-width="0.45"/>
<circle cx="222.4" cy="77.8" r="1.75" fill="#c2052f" stroke="#6a061c" stroke-width="0.45"/>
<circle cx="206.6" cy="85.7" r="1.75" fill="#c2052f" stroke="#6a061c" stroke-width="0.45"/>
<circle cx="189.3" cy="106.7" r="1.75" fill="#c2052f" stroke="#6a061c" stroke-width="0.45"/>
<circle cx="213.2" cy="87.5" r="1.75" fill="#c2052f" stroke="#6a061c" stroke-width="0.45"/>
<circle cx="212.9" cy="89.1" r="1.75" fill="#c2052f" stroke="#6a061c" stroke-width="0.45"/>
<circle cx="221.5" cy="83.2" r="1.75" fill="#c2052f" stroke="#6a061c" stroke-width="0.45"/>
<circle cx="199.1" cy="105.8" r="1.75" fill="#c2052f" stroke="#6a061c" stroke-width="0.45"/>
<circle cx="222.6" cy="82.7" r="1.75" fill="#c2052f" stroke="#6a061c" stroke-width="0.45"/>
<circle cx="212.2" cy="90.8" r="1.75" fill="#c2052f" stroke="#6a061c" stroke-width="0.45"/>
<circle cx="192.2" cy="97.6" r="1.75" fill="#c2052f" stroke="#6a061c" stroke-width="0.45"/>
<circle cx="210.8" cy="80.5" r="1.75" fill="#c2052f" stroke="#6a061c" stroke-width="0.45"/>
<circle cx="212.6" cy="92.7" r="1.75" fill="#c2052f" stroke="#6a061c" stroke-width="0.45"/>
<circle cx="185.6" cy="100.1" r="1.75" fill="#c2052f" stroke="#6a061c" stroke-width="0.45"/>
<circle cx="209.4" cy="87.1" r="1.75" fill="#c2052f" stroke="#6a061c" stroke-width="0.45"/>
<circle cx="213.7" cy="91.3" r="1.75" fill="#c2052f" stroke="#6a061c" stroke-width="0.45"/>
<circle cx="193.4" cy="112.0" r="1.75" fill="#c2052f" stroke="#6a061c" stroke-width="0.45"/>
<circle cx="183.7" cy="106.4" r="1.75" fill="#c2052f" stroke="#6a061c" stroke-width="0.45"/>
<circle cx="190.9" cy="98.7" r="1.75" fill="#c2052f" stroke="#6a061c" stroke-width="0.45"/>
<circle cx="206.6" cy="100.2" r="1.75" fill="#c2052f" stroke="#6a061c" stroke-width="0.45"/>
<circle cx="222.3" cy="79.2" r="1.75" fill="#c2052f" stroke="#6a061c" stroke-width="0.45"/>
<circle cx="197.8" cy="105.1" r="1.75" fill="#c2052f" stroke="#6a061c" stroke-width="0.45"/>
<circle cx="217.1" cy="83.3" r="1.75" fill="#c2052f" stroke="#6a061c" stroke-width="0.45"/>
<circle cx="209.0" cy="91.0" r="1.75" fill="#c2052f" stroke="#6a061c" stroke-width="0.45"/>
<circle cx="194.3" cy="100.3" r="1.75" fill="#c2052f" stroke="#6a061c" stroke-width="0.45"/>
<circle cx="218.8" cy="86.0" r="1.75" fill="#c2052f" stroke="#6a061c" stroke-width="0.45"/>
<circle cx="192.9" cy="112.2" r="1.75" fill="#c2052f" stroke="#6a061c" stroke-width="0.45"/>
<circle cx="203.0" cy="104.0" r="1.75" fill="#c2052f" stroke="#6a061c" stroke-width="0.45"/>
<circle cx="209.8" cy="85.2" r="1.75" fill="#c2052f" stroke="#6a061c" stroke-width="0.45"/>
<circle cx="191.5" cy="99.4" r="1.75" fill="#c2052f" stroke="#6a061c" stroke-width="0.45"/>
<circle cx="199.3" cy="108.2" r="1.75" fill="#c2052f" stroke="#6a061c" stroke-width="0.45"/>
<circle cx="213.0" cy="84.3" r="1.75" fill="#c2052f" stroke="#6a061c" stroke-width="0.45"/>
<circle cx="219.4" cy="80.5" r="1.75" fill="#c2052f" stroke="#6a061c" stroke-width="0.45"/>
<circle cx="197.0" cy="90.4" r="1.75" fill="#c2052f" stroke="#6a061c" stroke-width="0.45"/>
<circle cx="195.1" cy="103.6" r="1.75" fill="#c2052f" stroke="#6a061c" stroke-width="0.45"/>
<circle cx="199.5" cy="85.8" r="1.75" fill="#c2052f" stroke="#6a061c" stroke-width="0.45"/>
<circle cx="198.4" cy="103.1" r="1.75" fill="#c2052f" stroke="#6a061c" stroke-width="0.45"/>
<circle cx="208.2" cy="81.1" r="1.75" fill="#c2052f" stroke="#6a061c" stroke-width="0.45"/>
<circle cx="224.8" cy="75.4" r="1.75" fill="#c2052f" stroke="#6a061c" stroke-width="0.45"/>
<circle cx="222.6" cy="79.0" r="1.75" fill="#c2052f" stroke="#6a061c" stroke-width="0.45"/>
<circle cx="190.1" cy="93.6" r="1.75" fill="#c2052f" stroke="#6a061c" stroke-width="0.45"/>
<circle cx="198.4" cy="108.8" r="1.75" fill="#c2052f" stroke="#6a061c" stroke-width="0.45"/>
<circle cx="194.0" cy="113.9" r="1.75" fill="#c2052f" stroke="#6a061c" stroke-width="0.45"/>
<circle cx="186.3" cy="100.0" r="1.75" fill="#c2052f" stroke="#6a061c" stroke-width="0.45"/>
<circle cx="184.8" cy="106.8" r="1.75" fill="#c2052f" stroke="#6a061c" stroke-width="0.45"/>
<circle cx="212.8" cy="87.3" r="1.75" fill="#c2052f" stroke="#6a061c" stroke-width="0.45"/>
<circle cx="201.2" cy="89.1" r="1.75" fill="#c2052f" stroke="#6a061c" stroke-width="0.45"/>
<circle cx="226.2" cy="75.2" r="1.75" fill="#c2052f" stroke="#6a061c" stroke-width="0.45"/>
<circle cx="226.1" cy="72.4" r="1.75" fill="#c2052f" stroke="#6a061c" stroke-width="0.45"/>
<circle cx="192.6" cy="92.1" r="1.75" fill="#c2052f" stroke="#6a061c" stroke-width="0.45"/>
<circle cx="198.5" cy="86.0" r="1.75" fill="#c2052f" stroke="#6a061c" stroke-width="0.45"/>
<circle cx="188.6" cy="109.3" r="1.75" fill="#c2052f" stroke="#6a061c" stroke-width="0.45"/>
<circle cx="190.7" cy="100.1" r="1.75" fill="#c2052f" stroke="#6a061c" stroke-width="0.45"/>
<circle cx="201.1" cy="107.0" r="1.75" fill="#c2052f" stroke="#6a061c" stroke-width="0.45"/>
<circle cx="213.0" cy="92.2" r="1.75" fill="#c2052f" stroke="#6a061c" stroke-width="0.45"/>
<circle cx="187.9" cy="98.5" r="1.75" fill="#c2052f" stroke="#6a061c" stroke-width="0.45"/>
<circle cx="201.4" cy="104.7" r="1.75" fill="#c2052f" stroke="#6a061c" stroke-width="0.45"/>
<circle cx="213.5" cy="91.8" r="1.75" fill="#c2052f" stroke="#6a061c" stroke-width="0.45"/>
<circle cx="196.7" cy="99.6" r="1.75" fill="#c2052f" stroke="#6a061c" stroke-width="0.45"/>
<circle cx="212.9" cy="82.6" r="1.75" fill="#c2052f" stroke="#6a061c" stroke-width="0.45"/>
<circle cx="202.3" cy="91.8" r="1.75" fill="#c2052f" stroke="#6a061c" stroke-width="0.45"/>
<circle cx="212.5" cy="89.8" r="1.75" fill="#c2052f" stroke="#6a061c" stroke-width="0.45"/>
<circle cx="190.1" cy="100.8" r="1.75" fill="#c2052f" stroke="#6a061c" stroke-width="0.45"/>
<circle cx="188.9" cy="106.6" r="1.75" fill="#c2052f" stroke="#6a061c" stroke-width="0.45"/>
<circle cx="185.9" cy="97.2" r="1.75" fill="#c2052f" stroke="#6a061c" stroke-width="0.45"/>
<circle cx="206.9" cy="100.1" r="1.75" fill="#c2052f" stroke="#6a061c" stroke-width="0.45"/>
<circle cx="191.4" cy="102.2" r="1.75" fill="#c2052f" stroke="#6a061c" stroke-width="0.45"/>
<circle cx="200.8" cy="105.7" r="1.75" fill="#c2052f" stroke="#6a061c" stroke-width="0.45"/>
<circle cx="194.7" cy="89.3" r="1.75" fill="#c2052f" stroke="#6a061c" stroke-width="0.45"/>
<circle cx="202.2" cy="102.8" r="1.75" fill="#c2052f" stroke="#6a061c" stroke-width="0.45"/>
<circle cx="192.2" cy="104.7" r="1.75" fill="#c2052f" stroke="#6a061c" stroke-width="0.45"/>
<circle cx="191.9" cy="107.4" r="1.75" fill="#c2052f" stroke="#6a061c" stroke-width="0.45"/>
<circle cx="187.3" cy="106.3" r="1.75" fill="#c2052f" stroke="#6a061c" stroke-width="0.45"/>
<circle cx="204.7" cy="96.6" r="1.75" fill="#c2052f" stroke="#6a061c" stroke-width="0.45"/>
<circle cx="192.2" cy="114.8" r="1.75" fill="#c2052f" stroke="#6a061c" stroke-width="0.45"/>
<circle cx="198.7" cy="100.1" r="1.75" fill="#c2052f" stroke="#6a061c" stroke-width="0.45"/>
<circle cx="204.6" cy="84.6" r="1.75" fill="#c2052f" stroke="#6a061c" stroke-width="0.45"/>
<circle cx="180.8" cy="103.9" r="1.75" fill="#c2052f" stroke="#6a061c" stroke-width="0.45"/>
<circle cx="196.1" cy="92.9" r="1.75" fill="#c2052f" stroke="#6a061c" stroke-width="0.45"/>
<circle cx="202.6" cy="100.0" r="1.75" fill="#c2052f" stroke="#6a061c" stroke-width="0.45"/>
<circle cx="214.4" cy="87.6" r="1.75" fill="#c2052f" stroke="#6a061c" stroke-width="0.45"/>
<circle cx="183.6" cy="108.6" r="1.75" fill="#c2052f" stroke="#6a061c" stroke-width="0.45"/>
<circle cx="187.9" cy="108.8" r="1.75" fill="#c2052f" stroke="#6a061c" stroke-width="0.45"/>
<circle cx="214.2" cy="82.6" r="1.75" fill="#c2052f" stroke="#6a061c" stroke-width="0.45"/>
<circle cx="192.6" cy="106.3" r="1.75" fill="#c2052f" stroke="#6a061c" stroke-width="0.45"/>
<circle cx="189.3" cy="111.5" r="1.75" fill="#c2052f" stroke="#6a061c" stroke-width="0.45"/>
<circle cx="190.8" cy="102.5" r="1.75" fill="#c2052f" stroke="#6a061c" stroke-width="0.45"/>
<circle cx="209.1" cy="83.2" r="1.75" fill="#c2052f" stroke="#6a061c" stroke-width="0.45"/>
<circle cx="205.8" cy="93.8" r="1.75" fill="#c2052f" stroke="#6a061c" stroke-width="0.45"/>
<circle cx="204.6" cy="96.7" r="1.75" fill="#c2052f" stroke="#6a061c" stroke-width="0.45"/>
<circle cx="199.9" cy="90.2" r="1.75" fill="#c2052f" stroke="#6a061c" stroke-width="0.45"/>
<circle cx="229.8" cy="74.7" r="1.75" fill="#c2052f" stroke="#6a061c" stroke-width="0.45"/>
<circle cx="206.8" cy="93.2" r="1.75" fill="#c2052f" stroke="#6a061c" stroke-width="0.45"/>
<circle cx="226.6" cy="72.8" r="1.75" fill="#c2052f" stroke="#6a061c" stroke-width="0.45"/>
<circle cx="198.0" cy="110.2" r="1.75" fill="#c2052f" stroke="#6a061c" stroke-width="0.45"/>
<circle cx="199.4" cy="92.7" r="1.75" fill="#c2052f" stroke="#6a061c" stroke-width="0.45"/>
<circle cx="202.3" cy="96.3" r="1.75" fill="#c2052f" stroke="#6a061c" stroke-width="0.45"/>
<circle cx="206.4" cy="83.6" r="1.75" fill="#c2052f" stroke="#6a061c" stroke-width="0.45"/>
<circle cx="196.0" cy="97.7" r="1.75" fill="#c2052f" stroke="#6a061c" stroke-width="0.45"/>
<circle cx="182.7" cy="103.9" r="1.75" fill="#c2052f" stroke="#6a061c" stroke-width="0.45"/>
<circle cx="215.5" cy="80.9" r="1.75" fill="#c2052f" stroke="#6a061c" stroke-width="0.45"/>
<circle cx="214.8" cy="92.0" r="1.75" fill="#c2052f" stroke="#6a061c" stroke-width="0.45"/>
<circle cx="219.7" cy="75.9" r="1.75" fill="#c2052f" stroke="#6a061c" stroke-width="0.45"/>
<circle cx="214.2" cy="87.9" r="1.75" fill="#c2052f" stroke="#6a061c" stroke-width="0.45"/>
<circle cx="209.4" cy="82.9" r="1.75" fill="#c2052f" stroke="#6a061c" stroke-width="0.45"/>
<circle cx="196.1" cy="90.3" r="1.75" fill="#c2052f" stroke="#6a061c" stroke-width="0.45"/>
<circle cx="197.0" cy="90.7" r="1.75" fill="#c2052f" stroke="#6a061c" stroke-width="0.45"/>
<circle cx="213.6" cy="80.9" r="1.75" fill="#c2052f" stroke="#6a061c" stroke-width="0.45"/>
<circle cx="180.9" cy="102.1" r="1.75" fill="#c2052f" stroke="#6a061c" stroke-width="0.45"/>
<circle cx="185.2" cy="110.5" r="1.75" fill="#c2052f" stroke="#6a061c" stroke-width="0.45"/>
<circle cx="217.5" cy="82.2" r="1.75" fill="#c2052f" stroke="#6a061c" stroke-width="0.45"/>
<circle cx="218.2" cy="79.8" r="1.75" fill="#c2052f" stroke="#6a061c" stroke-width="0.45"/>
<circle cx="183.3" cy="106.2" r="1.75" fill="#c2052f" stroke="#6a061c" stroke-width="0.45"/>
<circle cx="218.0" cy="75.1" r="1.75" fill="#c2052f" stroke="#6a061c" stroke-width="0.45"/>
<circle cx="193.7" cy="114.8" r="1.75" fill="#c2052f" stroke="#6a061c" stroke-width="0.45"/>
<circle cx="222.5" cy="74.9" r="1.75" fill="#c2052f" stroke="#6a061c" stroke-width="0.45"/>
<circle cx="196.6" cy="104.2" r="1.75" fill="#c2052f" stroke="#6a061c" stroke-width="0.45"/>
<circle cx="189.2" cy="110.1" r="1.75" fill="#c2052f" stroke="#6a061c" stroke-width="0.45"/>
<circle cx="199.5" cy="97.2" r="1.75" fill="#c2052f" stroke="#6a061c" stroke-width="0.45"/>
<circle cx="203.1" cy="101.8" r="1.75" fill="#c2052f" stroke="#6a061c" stroke-width="0.45"/>
<circle cx="188.1" cy="107.3" r="1.75" fill="#c2052f" stroke="#6a061c" stroke-width="0.45"/>
<circle cx="199.3" cy="100.4" r="1.75" fill="#c2052f" stroke="#6a061c" stroke-width="0.45"/>
<circle cx="212.9" cy="90.2" r="1.75" fill="#c2052f" stroke="#6a061c" stroke-width="0.45"/>
<circle cx="200.4" cy="106.8" r="1.75" fill="#c2052f" stroke="#6a061c" stroke-width="0.45"/>
<circle cx="209.7" cy="84.5" r="1.75" fill="#c2052f" stroke="#6a061c" stroke-width="0.45"/>
<circle cx="197.7" cy="98.6" r="1.75" fill="#c2052f" stroke="#6a061c" stroke-width="0.45"/>
<circle cx="211.4" cy="85.2" r="1.75" fill="#c2052f" stroke="#6a061c" stroke-width="0.45"/>
<circle cx="199.9" cy="102.2" r="1.75" fill="#c2052f" stroke="#6a061c" stroke-width="0.45"/>
<circle cx="202.3" cy="97.8" r="1.75" fill="#c2052f" stroke="#6a061c" stroke-width="0.45"/>
<circle cx="182.9" cy="108.9" r="1.75" fill="#c2052f" stroke="#6a061c" stroke-width="0.45"/>
<circle cx="209.9" cy="83.7" r="1.75" fill="#c2052f" stroke="#6a061c" stroke-width="0.45"/>
<circle cx="190.9" cy="105.1" r="1.75" fill="#c2052f" stroke="#6a061c" stroke-width="0.45"/>
<circle cx="237.9" cy="66.7" r="1.7" fill="#34205a"/>
<circle cx="237.3" cy="69.0" r="1.7" fill="#34205a"/>
<text x="240.8" y="68.2" font-size="5.8" fill="#14202e" stroke="#14202e" stroke-width="0.15" textLength="26" lengthAdjust="spacingAndGlyphs">Venetoclax</text>
<text x="237.9" y="74.5" font-size="5.6" fill="#14202e" stroke="#14202e" stroke-width="0.15" textLength="22" lengthAdjust="spacingAndGlyphs">Navitoclax</text>
<circle cx="391.9" cy="42.1" r="1.75" fill="#c2052f" stroke="#6a061c" stroke-width="0.45"/>
<circle cx="380.6" cy="43.5" r="1.75" fill="#c2052f" stroke="#6a061c" stroke-width="0.45"/>
<circle cx="382.7" cy="50.8" r="1.75" fill="#c2052f" stroke="#6a061c" stroke-width="0.45"/>
<circle cx="362.3" cy="51.6" r="1.75" fill="#c2052f" stroke="#6a061c" stroke-width="0.45"/>
<circle cx="378.4" cy="57.3" r="1.75" fill="#c2052f" stroke="#6a061c" stroke-width="0.45"/>
<circle cx="350.3" cy="59.1" r="1.75" fill="#c2052f" stroke="#6a061c" stroke-width="0.45"/>
<circle cx="365.4" cy="59.4" r="1.75" fill="#c2052f" stroke="#6a061c" stroke-width="0.45"/>
<circle cx="367.1" cy="61.2" r="1.75" fill="#c2052f" stroke="#6a061c" stroke-width="0.45"/>
<circle cx="369.7" cy="62.0" r="1.75" fill="#c2052f" stroke="#6a061c" stroke-width="0.45"/>
<circle cx="371.4" cy="62.9" r="1.75" fill="#c2052f" stroke="#6a061c" stroke-width="0.45"/>
<circle cx="368.8" cy="64.6" r="1.75" fill="#c2052f" stroke="#6a061c" stroke-width="0.45"/>
<circle cx="366.2" cy="66.3" r="1.75" fill="#c2052f" stroke="#6a061c" stroke-width="0.45"/>
<circle cx="352.4" cy="67.7" r="1.75" fill="#c2052f" stroke="#6a061c" stroke-width="0.45"/>
<circle cx="366.2" cy="71.5" r="1.75" fill="#c2052f" stroke="#6a061c" stroke-width="0.45"/>
<circle cx="321.4" cy="84.5" r="1.75" fill="#c2052f" stroke="#6a061c" stroke-width="0.45"/>
<circle cx="330.2" cy="82.2" r="1.75" fill="#c2052f" stroke="#6a061c" stroke-width="0.45"/>
<circle cx="336.9" cy="83.8" r="1.75" fill="#c2052f" stroke="#6a061c" stroke-width="0.45"/>
<circle cx="320.1" cy="93.9" r="1.75" fill="#c2052f" stroke="#6a061c" stroke-width="0.45"/>
<circle cx="352.4" cy="67.7" r="1.75" fill="#c2052f" stroke="#6a061c" stroke-width="0.45"/>
<circle cx="366.5" cy="72.4" r="1.75" fill="#c2052f" stroke="#6a061c" stroke-width="0.45"/>
<circle cx="374.0" cy="58.0" r="1.75" fill="#c2052f" stroke="#6a061c" stroke-width="0.45"/>
<circle cx="376.0" cy="60.0" r="1.75" fill="#c2052f" stroke="#6a061c" stroke-width="0.45"/>
<circle cx="326.5" cy="100.8" r="1.75" fill="#c2052f" stroke="#6a061c" stroke-width="0.45"/>
<circle cx="317.0" cy="103.5" r="1.75" fill="#c2052f" stroke="#6a061c" stroke-width="0.45"/>
<circle cx="356.0" cy="75.7" r="1.75" fill="#c2052f" stroke="#6a061c" stroke-width="0.45"/>
<circle cx="339.2" cy="93.0" r="1.75" fill="#c2052f" stroke="#6a061c" stroke-width="0.45"/>
<circle cx="332.7" cy="91.8" r="1.75" fill="#c2052f" stroke="#6a061c" stroke-width="0.45"/>
<circle cx="334.9" cy="89.5" r="1.75" fill="#c2052f" stroke="#6a061c" stroke-width="0.45"/>
<circle cx="356.9" cy="72.0" r="1.75" fill="#c2052f" stroke="#6a061c" stroke-width="0.45"/>
<circle cx="346.0" cy="81.2" r="1.75" fill="#c2052f" stroke="#6a061c" stroke-width="0.45"/>
<circle cx="363.9" cy="67.6" r="1.75" fill="#c2052f" stroke="#6a061c" stroke-width="0.45"/>
<circle cx="346.1" cy="83.7" r="1.75" fill="#c2052f" stroke="#6a061c" stroke-width="0.45"/>
<circle cx="318.8" cy="110.8" r="1.75" fill="#c2052f" stroke="#6a061c" stroke-width="0.45"/>
<circle cx="350.2" cy="83.5" r="1.75" fill="#c2052f" stroke="#6a061c" stroke-width="0.45"/>
<circle cx="350.6" cy="78.9" r="1.75" fill="#c2052f" stroke="#6a061c" stroke-width="0.45"/>
<circle cx="314.1" cy="109.3" r="1.75" fill="#c2052f" stroke="#6a061c" stroke-width="0.45"/>
<circle cx="324.6" cy="109.6" r="1.75" fill="#c2052f" stroke="#6a061c" stroke-width="0.45"/>
<circle cx="317.5" cy="109.4" r="1.75" fill="#c2052f" stroke="#6a061c" stroke-width="0.45"/>
<circle cx="320.2" cy="106.6" r="1.75" fill="#c2052f" stroke="#6a061c" stroke-width="0.45"/>
<circle cx="330.1" cy="108.1" r="1.75" fill="#c2052f" stroke="#6a061c" stroke-width="0.45"/>
<circle cx="315.2" cy="107.7" r="1.75" fill="#c2052f" stroke="#6a061c" stroke-width="0.45"/>
<circle cx="363.1" cy="67.3" r="1.75" fill="#c2052f" stroke="#6a061c" stroke-width="0.45"/>
<circle cx="353.4" cy="78.7" r="1.75" fill="#c2052f" stroke="#6a061c" stroke-width="0.45"/>
<circle cx="358.0" cy="81.0" r="1.75" fill="#c2052f" stroke="#6a061c" stroke-width="0.45"/>
<circle cx="322.3" cy="101.7" r="1.75" fill="#c2052f" stroke="#6a061c" stroke-width="0.45"/>
<circle cx="346.7" cy="88.4" r="1.75" fill="#c2052f" stroke="#6a061c" stroke-width="0.45"/>
<circle cx="353.8" cy="84.2" r="1.75" fill="#c2052f" stroke="#6a061c" stroke-width="0.45"/>
<circle cx="358.2" cy="80.7" r="1.75" fill="#c2052f" stroke="#6a061c" stroke-width="0.45"/>
<circle cx="361.7" cy="77.4" r="1.75" fill="#c2052f" stroke="#6a061c" stroke-width="0.45"/>
<circle cx="322.6" cy="104.7" r="1.75" fill="#c2052f" stroke="#6a061c" stroke-width="0.45"/>
<circle cx="333.2" cy="93.2" r="1.75" fill="#c2052f" stroke="#6a061c" stroke-width="0.45"/>
<circle cx="337.4" cy="89.4" r="1.75" fill="#c2052f" stroke="#6a061c" stroke-width="0.45"/>
<circle cx="330.3" cy="98.9" r="1.75" fill="#c2052f" stroke="#6a061c" stroke-width="0.45"/>
<circle cx="333.7" cy="100.8" r="1.75" fill="#c2052f" stroke="#6a061c" stroke-width="0.45"/>
<circle cx="315.5" cy="106.7" r="1.75" fill="#c2052f" stroke="#6a061c" stroke-width="0.45"/>
<circle cx="341.3" cy="90.1" r="1.75" fill="#c2052f" stroke="#6a061c" stroke-width="0.45"/>
<circle cx="326.3" cy="104.0" r="1.75" fill="#c2052f" stroke="#6a061c" stroke-width="0.45"/>
<circle cx="344.9" cy="89.8" r="1.75" fill="#c2052f" stroke="#6a061c" stroke-width="0.45"/>
<circle cx="340.1" cy="88.7" r="1.75" fill="#c2052f" stroke="#6a061c" stroke-width="0.45"/>
<circle cx="356.3" cy="80.9" r="1.75" fill="#c2052f" stroke="#6a061c" stroke-width="0.45"/>
<circle cx="348.1" cy="82.1" r="1.75" fill="#c2052f" stroke="#6a061c" stroke-width="0.45"/>
<circle cx="336.7" cy="88.9" r="1.75" fill="#c2052f" stroke="#6a061c" stroke-width="0.45"/>
<circle cx="350.7" cy="77.7" r="1.75" fill="#c2052f" stroke="#6a061c" stroke-width="0.45"/>
<circle cx="341.7" cy="85.4" r="1.75" fill="#c2052f" stroke="#6a061c" stroke-width="0.45"/>
<circle cx="329.4" cy="95.8" r="1.75" fill="#c2052f" stroke="#6a061c" stroke-width="0.45"/>
<circle cx="344.5" cy="95.9" r="1.75" fill="#c2052f" stroke="#6a061c" stroke-width="0.45"/>
<circle cx="323.5" cy="98.8" r="1.75" fill="#c2052f" stroke="#6a061c" stroke-width="0.45"/>
<circle cx="338.3" cy="91.0" r="1.75" fill="#c2052f" stroke="#6a061c" stroke-width="0.45"/>
<circle cx="346.9" cy="87.2" r="1.75" fill="#c2052f" stroke="#6a061c" stroke-width="0.45"/>
<circle cx="333.8" cy="92.8" r="1.75" fill="#c2052f" stroke="#6a061c" stroke-width="0.45"/>
<circle cx="361.1" cy="76.0" r="1.75" fill="#c2052f" stroke="#6a061c" stroke-width="0.45"/>
<circle cx="343.7" cy="88.2" r="1.75" fill="#c2052f" stroke="#6a061c" stroke-width="0.45"/>
<circle cx="328.8" cy="101.8" r="1.75" fill="#c2052f" stroke="#6a061c" stroke-width="0.45"/>
<circle cx="337.1" cy="100.0" r="1.75" fill="#c2052f" stroke="#6a061c" stroke-width="0.45"/>
<circle cx="332.1" cy="97.1" r="1.75" fill="#c2052f" stroke="#6a061c" stroke-width="0.45"/>
<circle cx="364.1" cy="70.6" r="1.75" fill="#c2052f" stroke="#6a061c" stroke-width="0.45"/>
<circle cx="344.6" cy="84.7" r="1.75" fill="#c2052f" stroke="#6a061c" stroke-width="0.45"/>
<circle cx="346.6" cy="82.8" r="1.75" fill="#c2052f" stroke="#6a061c" stroke-width="0.45"/>
<circle cx="337.8" cy="86.6" r="1.75" fill="#c2052f" stroke="#6a061c" stroke-width="0.45"/>
<circle cx="353.2" cy="78.6" r="1.75" fill="#c2052f" stroke="#6a061c" stroke-width="0.45"/>
<circle cx="334.3" cy="91.3" r="1.75" fill="#c2052f" stroke="#6a061c" stroke-width="0.45"/>
<circle cx="340.5" cy="85.9" r="1.75" fill="#c2052f" stroke="#6a061c" stroke-width="0.45"/>
<circle cx="344.2" cy="88.5" r="1.75" fill="#c2052f" stroke="#6a061c" stroke-width="0.45"/>
<circle cx="341.5" cy="89.5" r="1.75" fill="#c2052f" stroke="#6a061c" stroke-width="0.45"/>
<circle cx="351.1" cy="83.3" r="1.75" fill="#c2052f" stroke="#6a061c" stroke-width="0.45"/>
<circle cx="332.4" cy="93.2" r="1.75" fill="#c2052f" stroke="#6a061c" stroke-width="0.45"/>
<circle cx="350.6" cy="89.9" r="1.75" fill="#c2052f" stroke="#6a061c" stroke-width="0.45"/>
<circle cx="334.9" cy="91.6" r="1.75" fill="#c2052f" stroke="#6a061c" stroke-width="0.45"/>
<circle cx="337.1" cy="94.7" r="1.75" fill="#c2052f" stroke="#6a061c" stroke-width="0.45"/>
<circle cx="341.2" cy="88.9" r="1.75" fill="#c2052f" stroke="#6a061c" stroke-width="0.45"/>
<circle cx="347.9" cy="93.6" r="1.75" fill="#c2052f" stroke="#6a061c" stroke-width="0.45"/>
<circle cx="335.5" cy="102.5" r="1.75" fill="#c2052f" stroke="#6a061c" stroke-width="0.45"/>
<circle cx="329.5" cy="97.9" r="1.75" fill="#c2052f" stroke="#6a061c" stroke-width="0.45"/>
<circle cx="340.4" cy="91.2" r="1.75" fill="#c2052f" stroke="#6a061c" stroke-width="0.45"/>
<circle cx="327.2" cy="95.7" r="1.75" fill="#c2052f" stroke="#6a061c" stroke-width="0.45"/>
<circle cx="344.7" cy="84.4" r="1.75" fill="#c2052f" stroke="#6a061c" stroke-width="0.45"/>
<circle cx="355.9" cy="80.1" r="1.75" fill="#c2052f" stroke="#6a061c" stroke-width="0.45"/>
<circle cx="352.8" cy="81.6" r="1.75" fill="#c2052f" stroke="#6a061c" stroke-width="0.45"/>
<circle cx="317.7" cy="108.2" r="1.75" fill="#c2052f" stroke="#6a061c" stroke-width="0.45"/>
<circle cx="345.2" cy="81.4" r="1.75" fill="#c2052f" stroke="#6a061c" stroke-width="0.45"/>
<circle cx="315.1" cy="107.5" r="1.75" fill="#c2052f" stroke="#6a061c" stroke-width="0.45"/>
<circle cx="337.1" cy="94.5" r="1.75" fill="#c2052f" stroke="#6a061c" stroke-width="0.45"/>
<circle cx="329.9" cy="107.9" r="1.75" fill="#c2052f" stroke="#6a061c" stroke-width="0.45"/>
<circle cx="358.5" cy="79.2" r="1.75" fill="#c2052f" stroke="#6a061c" stroke-width="0.45"/>
<circle cx="353.0" cy="75.2" r="1.75" fill="#c2052f" stroke="#6a061c" stroke-width="0.45"/>
<circle cx="329.6" cy="106.8" r="1.75" fill="#c2052f" stroke="#6a061c" stroke-width="0.45"/>
<circle cx="339.6" cy="102.8" r="1.75" fill="#c2052f" stroke="#6a061c" stroke-width="0.45"/>
<circle cx="342.4" cy="83.1" r="1.75" fill="#c2052f" stroke="#6a061c" stroke-width="0.45"/>
<circle cx="319.0" cy="104.4" r="1.75" fill="#c2052f" stroke="#6a061c" stroke-width="0.45"/>
<circle cx="349.9" cy="81.0" r="1.75" fill="#c2052f" stroke="#6a061c" stroke-width="0.45"/>
<circle cx="359.6" cy="70.7" r="1.75" fill="#c2052f" stroke="#6a061c" stroke-width="0.45"/>
<circle cx="337.3" cy="104.9" r="1.75" fill="#c2052f" stroke="#6a061c" stroke-width="0.45"/>
<circle cx="357.9" cy="72.2" r="1.75" fill="#c2052f" stroke="#6a061c" stroke-width="0.45"/>
<circle cx="332.1" cy="99.4" r="1.75" fill="#c2052f" stroke="#6a061c" stroke-width="0.45"/>
<circle cx="323.9" cy="110.4" r="1.75" fill="#c2052f" stroke="#6a061c" stroke-width="0.45"/>
<circle cx="352.3" cy="77.1" r="1.75" fill="#c2052f" stroke="#6a061c" stroke-width="0.45"/>
<circle cx="361.7" cy="70.4" r="1.75" fill="#c2052f" stroke="#6a061c" stroke-width="0.45"/>
<circle cx="341.2" cy="90.7" r="1.75" fill="#c2052f" stroke="#6a061c" stroke-width="0.45"/>
<circle cx="327.4" cy="101.8" r="1.75" fill="#c2052f" stroke="#6a061c" stroke-width="0.45"/>
<circle cx="333.9" cy="96.3" r="1.75" fill="#c2052f" stroke="#6a061c" stroke-width="0.45"/>
<circle cx="322.1" cy="105.6" r="1.75" fill="#c2052f" stroke="#6a061c" stroke-width="0.45"/>
<circle cx="330.3" cy="96.5" r="1.75" fill="#c2052f" stroke="#6a061c" stroke-width="0.45"/>
<circle cx="349.8" cy="81.5" r="1.75" fill="#c2052f" stroke="#6a061c" stroke-width="0.45"/>
<circle cx="335.5" cy="96.3" r="1.75" fill="#c2052f" stroke="#6a061c" stroke-width="0.45"/>
<circle cx="351.9" cy="76.5" r="1.75" fill="#c2052f" stroke="#6a061c" stroke-width="0.45"/>
<circle cx="318.6" cy="108.6" r="1.75" fill="#c2052f" stroke="#6a061c" stroke-width="0.45"/>
<circle cx="352.8" cy="76.8" r="1.75" fill="#c2052f" stroke="#6a061c" stroke-width="0.45"/>
<circle cx="336.8" cy="97.6" r="1.75" fill="#c2052f" stroke="#6a061c" stroke-width="0.45"/>
<circle cx="318.3" cy="102.7" r="1.75" fill="#c2052f" stroke="#6a061c" stroke-width="0.45"/>
<circle cx="324.0" cy="108.7" r="1.75" fill="#c2052f" stroke="#6a061c" stroke-width="0.45"/>
<circle cx="351.6" cy="83.5" r="1.75" fill="#c2052f" stroke="#6a061c" stroke-width="0.45"/>
<circle cx="347.8" cy="86.4" r="1.75" fill="#c2052f" stroke="#6a061c" stroke-width="0.45"/>
<circle cx="336.4" cy="89.2" r="1.75" fill="#c2052f" stroke="#6a061c" stroke-width="0.45"/>
<circle cx="364.9" cy="70.7" r="1.75" fill="#c2052f" stroke="#6a061c" stroke-width="0.45"/>
<circle cx="341.4" cy="86.0" r="1.75" fill="#c2052f" stroke="#6a061c" stroke-width="0.45"/>
<circle cx="329.1" cy="107.2" r="1.75" fill="#c2052f" stroke="#6a061c" stroke-width="0.45"/>
<circle cx="331.0" cy="103.9" r="1.75" fill="#c2052f" stroke="#6a061c" stroke-width="0.45"/>
<circle cx="346.1" cy="86.8" r="1.75" fill="#c2052f" stroke="#6a061c" stroke-width="0.45"/>
<circle cx="323.2" cy="98.4" r="1.75" fill="#c2052f" stroke="#6a061c" stroke-width="0.45"/>
<circle cx="359.9" cy="78.8" r="1.75" fill="#c2052f" stroke="#6a061c" stroke-width="0.45"/>
<circle cx="321.6" cy="102.4" r="1.75" fill="#c2052f" stroke="#6a061c" stroke-width="0.45"/>
<circle cx="359.0" cy="80.0" r="1.75" fill="#c2052f" stroke="#6a061c" stroke-width="0.45"/>
<circle cx="333.0" cy="91.1" r="1.75" fill="#c2052f" stroke="#6a061c" stroke-width="0.45"/>
<circle cx="333.0" cy="104.7" r="1.75" fill="#c2052f" stroke="#6a061c" stroke-width="0.45"/>
<circle cx="344.3" cy="94.8" r="1.75" fill="#c2052f" stroke="#6a061c" stroke-width="0.45"/>
<circle cx="340.2" cy="88.6" r="1.75" fill="#c2052f" stroke="#6a061c" stroke-width="0.45"/>
<circle cx="328.1" cy="96.5" r="1.75" fill="#c2052f" stroke="#6a061c" stroke-width="0.45"/>
<circle cx="341.3" cy="84.8" r="1.75" fill="#c2052f" stroke="#6a061c" stroke-width="0.45"/>
<circle cx="363.5" cy="72.4" r="1.75" fill="#c2052f" stroke="#6a061c" stroke-width="0.45"/>
<circle cx="344.1" cy="81.3" r="1.75" fill="#c2052f" stroke="#6a061c" stroke-width="0.45"/>
<circle cx="348.9" cy="79.0" r="1.75" fill="#c2052f" stroke="#6a061c" stroke-width="0.45"/>
<circle cx="331.6" cy="107.3" r="1.75" fill="#c2052f" stroke="#6a061c" stroke-width="0.45"/>
<circle cx="350.7" cy="86.1" r="1.75" fill="#c2052f" stroke="#6a061c" stroke-width="0.45"/>
<circle cx="333.2" cy="92.6" r="1.75" fill="#c2052f" stroke="#6a061c" stroke-width="0.45"/>
<circle cx="335.7" cy="90.1" r="1.75" fill="#c2052f" stroke="#6a061c" stroke-width="0.45"/>
<circle cx="344.2" cy="83.6" r="1.75" fill="#c2052f" stroke="#6a061c" stroke-width="0.45"/>
<circle cx="318.4" cy="106.1" r="1.75" fill="#c2052f" stroke="#6a061c" stroke-width="0.45"/>
<circle cx="339.9" cy="91.3" r="1.75" fill="#c2052f" stroke="#6a061c" stroke-width="0.45"/>
<circle cx="343.4" cy="99.0" r="1.75" fill="#c2052f" stroke="#6a061c" stroke-width="0.45"/>
<circle cx="317.8" cy="104.6" r="1.75" fill="#c2052f" stroke="#6a061c" stroke-width="0.45"/>
<circle cx="352.3" cy="85.1" r="1.75" fill="#c2052f" stroke="#6a061c" stroke-width="0.45"/>
<circle cx="321.6" cy="100.5" r="1.75" fill="#c2052f" stroke="#6a061c" stroke-width="0.45"/>
<circle cx="331.5" cy="101.4" r="1.75" fill="#c2052f" stroke="#6a061c" stroke-width="0.45"/>
<circle cx="318.4" cy="109.2" r="1.75" fill="#c2052f" stroke="#6a061c" stroke-width="0.45"/>
<circle cx="350.5" cy="76.8" r="1.75" fill="#c2052f" stroke="#6a061c" stroke-width="0.45"/>
<circle cx="318.3" cy="103.2" r="1.75" fill="#c2052f" stroke="#6a061c" stroke-width="0.45"/>
<circle cx="328.5" cy="97.7" r="1.75" fill="#c2052f" stroke="#6a061c" stroke-width="0.45"/>
<circle cx="322.4" cy="104.0" r="1.75" fill="#c2052f" stroke="#6a061c" stroke-width="0.45"/>
<circle cx="350.7" cy="83.5" r="1.75" fill="#c2052f" stroke="#6a061c" stroke-width="0.45"/>
<circle cx="324.3" cy="107.7" r="1.75" fill="#c2052f" stroke="#6a061c" stroke-width="0.45"/>
<circle cx="338.7" cy="92.4" r="1.75" fill="#c2052f" stroke="#6a061c" stroke-width="0.45"/>
<circle cx="350.2" cy="77.7" r="1.75" fill="#c2052f" stroke="#6a061c" stroke-width="0.45"/>
<circle cx="329.3" cy="101.4" r="1.75" fill="#c2052f" stroke="#6a061c" stroke-width="0.45"/>
<circle cx="348.2" cy="81.4" r="1.75" fill="#c2052f" stroke="#6a061c" stroke-width="0.45"/>
<circle cx="343.4" cy="84.1" r="1.75" fill="#c2052f" stroke="#6a061c" stroke-width="0.45"/>
<circle cx="312.4" cy="106.6" r="1.75" fill="#c2052f" stroke="#6a061c" stroke-width="0.45"/>
<circle cx="337.8" cy="86.0" r="1.75" fill="#c2052f" stroke="#6a061c" stroke-width="0.45"/>
<circle cx="332.3" cy="101.9" r="1.75" fill="#c2052f" stroke="#6a061c" stroke-width="0.45"/>
<circle cx="352.2" cy="75.0" r="1.75" fill="#c2052f" stroke="#6a061c" stroke-width="0.45"/>
<circle cx="330.6" cy="100.7" r="1.75" fill="#c2052f" stroke="#6a061c" stroke-width="0.45"/>
<circle cx="349.0" cy="84.1" r="1.75" fill="#c2052f" stroke="#6a061c" stroke-width="0.45"/>
<circle cx="350.7" cy="80.8" r="1.75" fill="#c2052f" stroke="#6a061c" stroke-width="0.45"/>
<circle cx="368.3" cy="67.2" r="1.75" fill="#c2052f" stroke="#6a061c" stroke-width="0.45"/>
<circle cx="342.7" cy="92.9" r="1.75" fill="#c2052f" stroke="#6a061c" stroke-width="0.45"/>
<circle cx="343.6" cy="96.3" r="1.75" fill="#c2052f" stroke="#6a061c" stroke-width="0.45"/>
<circle cx="346.3" cy="80.5" r="1.75" fill="#c2052f" stroke="#6a061c" stroke-width="0.45"/>
<circle cx="354.2" cy="77.0" r="1.75" fill="#c2052f" stroke="#6a061c" stroke-width="0.45"/>
<circle cx="356.2" cy="79.4" r="1.75" fill="#c2052f" stroke="#6a061c" stroke-width="0.45"/>
<circle cx="339.1" cy="96.2" r="1.75" fill="#c2052f" stroke="#6a061c" stroke-width="0.45"/>
<circle cx="356.1" cy="82.0" r="1.75" fill="#c2052f" stroke="#6a061c" stroke-width="0.45"/>
<circle cx="356.4" cy="76.2" r="1.75" fill="#c2052f" stroke="#6a061c" stroke-width="0.45"/>
<circle cx="348.3" cy="81.1" r="1.75" fill="#c2052f" stroke="#6a061c" stroke-width="0.45"/>
<circle cx="353.7" cy="90.6" r="1.7" fill="#34205a"/>
<circle cx="337.6" cy="108.3" r="1.7" fill="#34205a"/>
<text x="354.6" y="95.3" font-size="5.6" fill="#14202e" stroke="#14202e" stroke-width="0.15" textLength="21.5" lengthAdjust="spacingAndGlyphs">Navitoclax</text>
<text x="338.5" y="112.1" font-size="5.6" fill="#14202e" stroke="#14202e" stroke-width="0.15" textLength="24" lengthAdjust="spacingAndGlyphs">Venetoclax</text>
<rect x="52.30" y="188.20" width="28.00" height="10.00" fill="#c55654" stroke="#8a8a8a" stroke-width="0.7"/>
<rect x="80.30" y="188.20" width="28.00" height="10.00" fill="#c14245" stroke="#8a8a8a" stroke-width="0.7"/>
<rect x="108.30" y="188.20" width="28.00" height="10.00" fill="#d08379" stroke="#8a8a8a" stroke-width="0.7"/>
<rect x="136.30" y="188.20" width="28.00" height="10.00" fill="#d48e83" stroke="#8a8a8a" stroke-width="0.7"/>
<rect x="52.30" y="198.20" width="28.00" height="10.00" fill="#c8665c" stroke="#8a8a8a" stroke-width="0.7"/>
<rect x="80.30" y="198.20" width="28.00" height="10.00" fill="#c45652" stroke="#8a8a8a" stroke-width="0.7"/>
<rect x="108.30" y="198.20" width="28.00" height="10.00" fill="#d0857b" stroke="#8a8a8a" stroke-width="0.7"/>
<rect x="136.30" y="198.20" width="28.00" height="10.00" fill="#cc776e" stroke="#8a8a8a" stroke-width="0.7"/>
<rect x="52.30" y="208.20" width="28.00" height="10.00" fill="#cc736a" stroke="#8a8a8a" stroke-width="0.7"/>
<rect x="80.30" y="208.20" width="28.00" height="10.00" fill="#c1524d" stroke="#8a8a8a" stroke-width="0.7"/>
<rect x="108.30" y="208.20" width="28.00" height="10.00" fill="#e3c1b9" stroke="#8a8a8a" stroke-width="0.7"/>
<rect x="136.30" y="208.20" width="28.00" height="10.00" fill="#d0857b" stroke="#8a8a8a" stroke-width="0.7"/>
<rect x="52.30" y="218.20" width="28.00" height="10.00" fill="#c8665e" stroke="#8a8a8a" stroke-width="0.7"/>
<rect x="80.30" y="218.20" width="28.00" height="10.00" fill="#c45c54" stroke="#8a8a8a" stroke-width="0.7"/>
<rect x="108.30" y="218.20" width="28.00" height="10.00" fill="#e3c1b9" stroke="#8a8a8a" stroke-width="0.7"/>
<rect x="136.30" y="218.20" width="28.00" height="10.00" fill="#e7cac2" stroke="#8a8a8a" stroke-width="0.7"/>
<rect x="52.30" y="228.20" width="28.00" height="10.00" fill="#cc756c" stroke="#8a8a8a" stroke-width="0.7"/>
<rect x="80.30" y="228.20" width="28.00" height="10.00" fill="#c86c64" stroke="#8a8a8a" stroke-width="0.7"/>
<rect x="108.30" y="228.20" width="28.00" height="10.00" fill="#e3c7c1" stroke="#8a8a8a" stroke-width="0.7"/>
<rect x="136.30" y="228.20" width="28.00" height="10.00" fill="#e7cdc6" stroke="#8a8a8a" stroke-width="0.7"/>
<rect x="52.30" y="238.20" width="28.00" height="10.00" fill="#e9d5d0" stroke="#8a8a8a" stroke-width="0.7"/>
<rect x="80.30" y="238.20" width="28.00" height="10.00" fill="#d4948a" stroke="#8a8a8a" stroke-width="0.7"/>
<rect x="108.30" y="238.20" width="28.00" height="10.00" fill="#e5c8c1" stroke="#8a8a8a" stroke-width="0.7"/>
<rect x="136.30" y="238.20" width="28.00" height="10.00" fill="#dfb1a9" stroke="#8a8a8a" stroke-width="0.7"/>
<rect x="52.30" y="248.20" width="28.00" height="10.00" fill="#f3edeb" stroke="#8a8a8a" stroke-width="0.7"/>
<rect x="80.30" y="248.20" width="28.00" height="10.00" fill="#d0857b" stroke="#8a8a8a" stroke-width="0.7"/>
<rect x="108.30" y="248.20" width="28.00" height="10.00" fill="#e3c1b9" stroke="#8a8a8a" stroke-width="0.7"/>
<rect x="136.30" y="248.20" width="28.00" height="10.00" fill="#dfb7ae" stroke="#8a8a8a" stroke-width="0.7"/>
<rect x="52.30" y="258.20" width="28.00" height="10.00" fill="#ecdcd8" stroke="#8a8a8a" stroke-width="0.7"/>
<rect x="80.30" y="258.20" width="28.00" height="10.00" fill="#cc756c" stroke="#8a8a8a" stroke-width="0.7"/>
<rect x="108.30" y="258.20" width="28.00" height="10.00" fill="#e3c1b9" stroke="#8a8a8a" stroke-width="0.7"/>
<rect x="136.30" y="258.20" width="28.00" height="10.00" fill="#d4928a" stroke="#8a8a8a" stroke-width="0.7"/>
<rect x="52.30" y="268.20" width="28.00" height="10.00" fill="#ecdcd8" stroke="#8a8a8a" stroke-width="0.7"/>
<rect x="80.30" y="268.20" width="28.00" height="10.00" fill="#c86c64" stroke="#8a8a8a" stroke-width="0.7"/>
<rect x="108.30" y="268.20" width="28.00" height="10.00" fill="#e3c4be" stroke="#8a8a8a" stroke-width="0.7"/>
<rect x="136.30" y="268.20" width="28.00" height="10.00" fill="#ecd8d2" stroke="#8a8a8a" stroke-width="0.7"/>
<rect x="52.30" y="278.20" width="28.00" height="10.00" fill="#e7d0c8" stroke="#8a8a8a" stroke-width="0.7"/>
<rect x="80.30" y="278.20" width="28.00" height="10.00" fill="#d0837b" stroke="#8a8a8a" stroke-width="0.7"/>
<rect x="108.30" y="278.20" width="28.00" height="10.00" fill="#b92e37" stroke="#8a8a8a" stroke-width="0.7"/>
<rect x="136.30" y="278.20" width="28.00" height="10.00" fill="#bb333d" stroke="#8a8a8a" stroke-width="0.7"/>
<rect x="52.30" y="288.20" width="28.00" height="10.00" fill="#dca9a2" stroke="#8a8a8a" stroke-width="0.7"/>
<rect x="80.30" y="288.20" width="28.00" height="10.00" fill="#b92e37" stroke="#8a8a8a" stroke-width="0.7"/>
<rect x="108.30" y="288.20" width="28.00" height="10.00" fill="#d8a29a" stroke="#8a8a8a" stroke-width="0.7"/>
<rect x="136.30" y="288.20" width="28.00" height="10.00" fill="#c13d45" stroke="#8a8a8a" stroke-width="0.7"/>
<rect x="52.30" y="298.20" width="28.00" height="10.00" fill="#e7cdc6" stroke="#8a8a8a" stroke-width="0.7"/>
<rect x="80.30" y="298.20" width="28.00" height="10.00" fill="#e3beb6" stroke="#8a8a8a" stroke-width="0.7"/>
<rect x="108.30" y="298.20" width="28.00" height="10.00" fill="#c45252" stroke="#8a8a8a" stroke-width="0.7"/>
<rect x="136.30" y="298.20" width="28.00" height="10.00" fill="#c85c54" stroke="#8a8a8a" stroke-width="0.7"/>
<rect x="52.30" y="308.20" width="28.00" height="10.00" fill="#efe3df" stroke="#8a8a8a" stroke-width="0.7"/>
<rect x="80.30" y="308.20" width="28.00" height="10.00" fill="#dfb9b1" stroke="#8a8a8a" stroke-width="0.7"/>
<rect x="108.30" y="308.20" width="28.00" height="10.00" fill="#c8665e" stroke="#8a8a8a" stroke-width="0.7"/>
<rect x="136.30" y="308.20" width="28.00" height="10.00" fill="#d0857b" stroke="#8a8a8a" stroke-width="0.7"/>
<rect x="52.30" y="318.20" width="28.00" height="10.00" fill="#b92e36" stroke="#8a8a8a" stroke-width="0.7"/>
<rect x="80.30" y="318.20" width="28.00" height="10.00" fill="#b92e36" stroke="#8a8a8a" stroke-width="0.7"/>
<rect x="108.30" y="318.20" width="28.00" height="10.00" fill="#bd373f" stroke="#8a8a8a" stroke-width="0.7"/>
<rect x="136.30" y="318.20" width="28.00" height="10.00" fill="#c13d45" stroke="#8a8a8a" stroke-width="0.7"/>
<rect x="52.30" y="328.20" width="28.00" height="10.00" fill="#c13d45" stroke="#8a8a8a" stroke-width="0.7"/>
<rect x="80.30" y="328.20" width="28.00" height="10.00" fill="#c13d45" stroke="#8a8a8a" stroke-width="0.7"/>
<rect x="108.30" y="328.20" width="28.00" height="10.00" fill="#c13d45" stroke="#8a8a8a" stroke-width="0.7"/>
<rect x="136.30" y="328.20" width="28.00" height="10.00" fill="#c1424d" stroke="#8a8a8a" stroke-width="0.7"/>
<text x="168.00" y="195.40" font-size="6.3" text-anchor="start" fill="#1a1a1a" >Verdinexor (XPO1/CRM1 inhibitor)</text>
<text x="168.00" y="205.40" font-size="6.3" text-anchor="start" fill="#1a1a1a" >AT 101 (Bcl–2 inhibitor)</text>
<text x="168.00" y="215.40" font-size="6.3" text-anchor="start" fill="#1a1a1a" >UMI–77 (MCL1 inhibitor)</text>
<text x="168.00" y="225.40" font-size="6.3" text-anchor="start" fill="#1a1a1a" >Pyridoclax (MCL–1 inhibitor)</text>
<text x="168.00" y="235.40" font-size="6.3" text-anchor="start" fill="#1a1a1a" >A–1210477 (MCL–1 inhibitor)</text>
<text x="168.00" y="245.40" font-size="6.3" text-anchor="start" fill="#1a1a1a" >PAC–1 (procaspase–3 activator)</text>
<text x="168.00" y="255.40" font-size="6.3" text-anchor="start" fill="#1a1a1a" >Nutlin–3 (MDM2 inhibitor)</text>
<text x="168.00" y="265.40" font-size="6.3" text-anchor="start" fill="#1a1a1a" >Venetoclax (Bcl–2 inhibitor)</text>
<text x="168.00" y="275.40" font-size="6.3" text-anchor="start" fill="#1a1a1a" >WEHI–539 (Bcl–XL inhibitor)</text>
<text x="168.00" y="285.40" font-size="6.3" text-anchor="start" fill="#1a1a1a" >Idasanutlin (MDM2 inhibitor)</text>
<text x="168.00" y="295.40" font-size="6.3" text-anchor="start" fill="#1a1a1a" >Navitoclax (Bcl–2/Bcl–xL inhibitor)</text>
<text x="168.00" y="305.40" font-size="6.3" text-anchor="start" fill="#1a1a1a" >SAR405838 (MDM2 inhibitor)</text>
<text x="168.00" y="315.40" font-size="6.3" text-anchor="start" fill="#1a1a1a" >Serdemetan (HDM2–p53 antagonist)</text>
<text x="168.00" y="325.40" font-size="6.3" text-anchor="start" fill="#1a1a1a" >Selinexor (CRM1 inhibitor)</text>
<text x="168.00" y="335.40" font-size="6.3" text-anchor="start" fill="#1a1a1a" >Sabutoclax (pan–Bcl–2 family inhibitor)</text>
<path d="M122.30 188.20 L122.30 183.50 L150.30 183.50 L150.30 188.20" stroke="#000" stroke-width="1.0" fill="none" />
<path d="M94.30 188.20 L94.30 176.60 L136.30 176.60 L136.30 183.50" stroke="#000" stroke-width="1.0" fill="none" />
<path d="M66.30 188.20 L66.30 173.20 L115.30 173.20 L115.30 176.60" stroke="#000" stroke-width="1.0" fill="none" />
<path d="M52.30 193.20 L48.60 193.20 L48.60 203.20 L52.30 203.20" stroke="#000" stroke-width="1.0" fill="none" />
<path d="M48.60 198.20 L47.60 198.20 L47.60 213.20 L52.30 213.20" stroke="#000" stroke-width="1.0" fill="none" />
<path d="M52.30 223.20 L49.00 223.20 L49.00 233.20 L52.30 233.20" stroke="#000" stroke-width="1.0" fill="none" />
<path d="M47.60 205.70 L44.00 205.70 L44.00 228.20 L49.00 228.20" stroke="#000" stroke-width="1.0" fill="none" />
<path d="M52.30 243.20 L48.50 243.20 L48.50 253.20 L52.30 253.20" stroke="#000" stroke-width="1.0" fill="none" />
<path d="M48.50 248.20 L47.80 248.20 L47.80 263.20 L52.30 263.20" stroke="#000" stroke-width="1.0" fill="none" />
<path d="M47.80 255.70 L46.70 255.70 L46.70 273.20 L52.30 273.20" stroke="#000" stroke-width="1.0" fill="none" />
<path d="M44.00 216.95 L37.30 216.95 L37.30 264.45 L46.70 264.45" stroke="#000" stroke-width="1.0" fill="none" />
<path d="M52.30 283.20 L41.40 283.20 L41.40 293.20 L52.30 293.20" stroke="#000" stroke-width="1.0" fill="none" />
<path d="M52.30 303.20 L47.50 303.20 L47.50 313.20 L52.30 313.20" stroke="#000" stroke-width="1.0" fill="none" />
<path d="M41.40 288.20 L39.20 288.20 L39.20 308.20 L47.50 308.20" stroke="#000" stroke-width="1.0" fill="none" />
<path d="M37.30 240.70 L33.80 240.70 L33.80 298.20 L39.20 298.20" stroke="#000" stroke-width="1.0" fill="none" />
<path d="M52.30 323.20 L47.50 323.20 L47.50 333.20 L52.30 333.20" stroke="#000" stroke-width="1.0" fill="none" />
<path d="M33.80 269.45 L28.20 269.45 L28.20 328.20 L47.50 328.20" stroke="#000" stroke-width="1.0" fill="none" />
<text x="62.20" y="347.00" font-size="6.3" text-anchor="middle" fill="#1a1a1a" >shCtr</text>
<text x="92.40" y="347.00" font-size="6.3" text-anchor="middle" fill="#1a1a1a" >shROR1  #2</text>
<text x="123.20" y="347.00" font-size="6.3" text-anchor="middle" fill="#1a1a1a" >shCtr</text>
<text x="154.00" y="347.00" font-size="6.3" text-anchor="middle" fill="#1a1a1a" >shROR1 #2</text>
<line x1="53.00" y1="351.00" x2="107.50" y2="351.00" stroke="#000" stroke-width="1.1" />
<line x1="110.50" y1="351.00" x2="164.00" y2="351.00" stroke="#000" stroke-width="1.1" />
<text x="80.40" y="359.60" font-size="6.3" text-anchor="middle" fill="#1a1a1a" >Jeko-1</text>
<text x="135.80" y="359.60" font-size="6.3" text-anchor="middle" fill="#1a1a1a" >Z-138</text>
<text x="38.50" y="161.60" font-size="5.4" text-anchor="middle" fill="#333" font-weight="bold" textLength="10.60" lengthAdjust="spacingAndGlyphs" >DSS</text>
<defs><linearGradient id="gB" x1="0" x2="1" y1="0" y2="0"><stop offset="0" stop-color="#d8e6f0"/><stop offset="0.25" stop-color="#9cc0dc"/><stop offset="0.5" stop-color="#b0b8d8"/><stop offset="0.58" stop-color="#d86868"/><stop offset="1" stop-color="#c83c3c"/></linearGradient><linearGradient id="gC" x1="0" x2="0" y1="0" y2="1"><stop offset="0" stop-color="#283a78"/><stop offset="0.3" stop-color="#4c5c98"/><stop offset="0.55" stop-color="#7c86b8"/><stop offset="0.8" stop-color="#b8bcd8"/><stop offset="1" stop-color="#f2f2f8"/></linearGradient></defs>
<rect x="30.40" y="164.60" width="16.40" height="15.80" fill="url(#gB)" stroke="#111" stroke-width="0.9"/>
<path d="M32 179 L34 168 L36 176 L38 166 L40 175 L42 170 L44 178" stroke="#f0f0f8" stroke-width="0.6" fill="none" />
<line x1="29.00" y1="166.50" x2="30.40" y2="166.50" stroke="#222" stroke-width="0.6" />
<line x1="29.00" y1="169.80" x2="30.40" y2="169.80" stroke="#222" stroke-width="0.6" />
<line x1="29.00" y1="173.10" x2="30.40" y2="173.10" stroke="#222" stroke-width="0.6" />
<line x1="29.00" y1="176.40" x2="30.40" y2="176.40" stroke="#222" stroke-width="0.6" />
<line x1="29.00" y1="179.70" x2="30.40" y2="179.70" stroke="#222" stroke-width="0.6" />
<text x="26.80" y="182.00" font-size="2.6" text-anchor="start" fill="#333" textLength="18.00" lengthAdjust="spacingAndGlyphs" transform="rotate(-90 26.80 182.00)" >0 10 20 30 40</text>
<line x1="38.60" y1="180.40" x2="38.60" y2="181.60" stroke="#222" stroke-width="0.6" />
<text x="39.50" y="186.30" font-size="4.6" text-anchor="middle" fill="#333" font-weight="bold" >20</text>
<rect x="310.20" y="185.20" width="29.60" height="9.56" fill="#f3f3f8" stroke="#8a8a8a" stroke-width="0.6"/>
<rect x="339.80" y="185.20" width="29.60" height="9.56" fill="#6e7ab0" stroke="#8a8a8a" stroke-width="0.6"/>
<rect x="310.20" y="194.76" width="29.60" height="9.56" fill="#f0f0f6" stroke="#8a8a8a" stroke-width="0.6"/>
<rect x="339.80" y="194.76" width="29.60" height="9.56" fill="#7480b5" stroke="#8a8a8a" stroke-width="0.6"/>
<rect x="310.20" y="204.32" width="29.60" height="9.56" fill="#eeeef5" stroke="#8a8a8a" stroke-width="0.6"/>
<rect x="339.80" y="204.32" width="29.60" height="9.56" fill="#7a85b8" stroke="#8a8a8a" stroke-width="0.6"/>
<rect x="310.20" y="213.89" width="29.60" height="9.56" fill="#f0f0f6" stroke="#8a8a8a" stroke-width="0.6"/>
<rect x="339.80" y="213.89" width="29.60" height="9.56" fill="#8a94c0" stroke="#8a8a8a" stroke-width="0.6"/>
<rect x="310.20" y="223.45" width="29.60" height="9.56" fill="#d5d8e8" stroke="#8a8a8a" stroke-width="0.6"/>
<rect x="339.80" y="223.45" width="29.60" height="9.56" fill="#6a78ad" stroke="#8a8a8a" stroke-width="0.6"/>
<rect x="310.20" y="233.01" width="29.60" height="9.56" fill="#dcdeec" stroke="#8a8a8a" stroke-width="0.6"/>
<rect x="339.80" y="233.01" width="29.60" height="9.56" fill="#7280b2" stroke="#8a8a8a" stroke-width="0.6"/>
<rect x="310.20" y="242.57" width="29.60" height="9.56" fill="#c0c5dd" stroke="#8a8a8a" stroke-width="0.6"/>
<rect x="339.80" y="242.57" width="29.60" height="9.56" fill="#7482b5" stroke="#8a8a8a" stroke-width="0.6"/>
<rect x="310.20" y="252.14" width="29.60" height="9.56" fill="#b8bdd8" stroke="#8a8a8a" stroke-width="0.6"/>
<rect x="339.80" y="252.14" width="29.60" height="9.56" fill="#7886b6" stroke="#8a8a8a" stroke-width="0.6"/>
<rect x="310.20" y="261.70" width="29.60" height="9.56" fill="#b0b5d5" stroke="#8a8a8a" stroke-width="0.6"/>
<rect x="339.80" y="261.70" width="29.60" height="9.56" fill="#8088b8" stroke="#8a8a8a" stroke-width="0.6"/>
<rect x="310.20" y="271.26" width="29.60" height="9.56" fill="#dadcea" stroke="#8a8a8a" stroke-width="0.6"/>
<rect x="339.80" y="271.26" width="29.60" height="9.56" fill="#c5c8e0" stroke="#8a8a8a" stroke-width="0.6"/>
<rect x="310.20" y="280.82" width="29.60" height="9.56" fill="#d0d3e6" stroke="#8a8a8a" stroke-width="0.6"/>
<rect x="339.80" y="280.82" width="29.60" height="9.56" fill="#bcc0dc" stroke="#8a8a8a" stroke-width="0.6"/>
<rect x="310.20" y="290.39" width="29.60" height="9.56" fill="#c8cce2" stroke="#8a8a8a" stroke-width="0.6"/>
<rect x="339.80" y="290.39" width="29.60" height="9.56" fill="#b5bad8" stroke="#8a8a8a" stroke-width="0.6"/>
<rect x="310.20" y="299.95" width="29.60" height="9.56" fill="#7c85b5" stroke="#8a8a8a" stroke-width="0.6"/>
<rect x="339.80" y="299.95" width="29.60" height="9.56" fill="#4a5c98" stroke="#8a8a8a" stroke-width="0.6"/>
<rect x="310.20" y="309.51" width="29.60" height="9.56" fill="#8890bc" stroke="#8a8a8a" stroke-width="0.6"/>
<rect x="339.80" y="309.51" width="29.60" height="9.56" fill="#5264a0" stroke="#8a8a8a" stroke-width="0.6"/>
<rect x="310.20" y="319.07" width="29.60" height="9.56" fill="#5a6aa5" stroke="#8a8a8a" stroke-width="0.6"/>
<rect x="339.80" y="319.07" width="29.60" height="9.56" fill="#4a5c98" stroke="#8a8a8a" stroke-width="0.6"/>
<rect x="310.20" y="328.64" width="29.60" height="9.56" fill="#3e5490" stroke="#8a8a8a" stroke-width="0.6"/>
<rect x="339.80" y="328.64" width="29.60" height="9.56" fill="#3a5090" stroke="#8a8a8a" stroke-width="0.6"/>
<text x="371.60" y="192.20" font-size="6.3" text-anchor="start" fill="#1a1a1a" >VX 745 (p38MAPK inhibitor)</text>
<text x="371.60" y="201.76" font-size="6.3" text-anchor="start" fill="#1a1a1a" >Duvelisib (PI3K inhibitor)</text>
<text x="371.60" y="211.32" font-size="6.3" text-anchor="start" fill="#1a1a1a" >Bryostatin 1 (PKC activator)</text>
<text x="371.60" y="220.89" font-size="6.3" text-anchor="start" fill="#1a1a1a" >TG100–115 (PI3K gamma/delta inhibitor)</text>
<text x="371.60" y="230.45" font-size="6.3" text-anchor="start" fill="#1a1a1a" >Ibrutinib (Btk inhibitor)</text>
<text x="371.60" y="240.01" font-size="6.3" text-anchor="start" fill="#1a1a1a" >AZD–6482 (PI3Kbeta–selective inhibitor)</text>
<text x="371.60" y="249.57" font-size="6.3" text-anchor="start" fill="#1a1a1a" >Ponatinib (Broad TKI inhibitor)</text>
<text x="371.60" y="259.14" font-size="6.3" text-anchor="start" fill="#1a1a1a" >PF 431396 (FAK/PYK2 inhibitor)</text>
<text x="371.60" y="268.70" font-size="6.3" text-anchor="start" fill="#1a1a1a" >Midostaurin (PKC/PKA/S6K/EGFR inhibitor)</text>
<text x="371.60" y="278.26" font-size="6.3" text-anchor="start" fill="#1a1a1a" >VS–4718 (FAK inhibitor)</text>
<text x="371.60" y="287.82" font-size="6.3" text-anchor="start" fill="#1a1a1a" >Alpelisib (PI3Kalpha inhibitor)</text>
<text x="371.60" y="297.39" font-size="6.3" text-anchor="start" fill="#1a1a1a" >Sotrastaurin (PKC inhibitor)</text>
<text x="371.60" y="306.95" font-size="6.3" text-anchor="start" fill="#1a1a1a" >LY–294002 (PI3K inhibitor)</text>
<text x="371.60" y="316.51" font-size="6.3" text-anchor="start" fill="#1a1a1a" >Triciribine (AKT inhibitor)</text>
<text x="371.60" y="326.07" font-size="6.3" text-anchor="start" fill="#1a1a1a" >AZD2014 (mTOR inhibitor, ATP–competitive)</text>
<text x="371.60" y="335.64" font-size="6.3" text-anchor="start" fill="#1a1a1a" >PF–04691502 (PI3K/mTOR inhibitor)</text>
<path d="M325.00 185.20 L325.00 176.50 L354.60 176.50 L354.60 185.20" stroke="#000" stroke-width="1.0" fill="none" />
<path d="M310.20 189.98 L309.20 189.98 L309.20 199.54 L310.20 199.54" stroke="#000" stroke-width="1.0" fill="none" />
<path d="M309.20 194.76 L307.70 194.76 L307.70 209.11 L310.20 209.11" stroke="#000" stroke-width="1.0" fill="none" />
<path d="M307.70 201.93 L306.10 201.93 L306.10 218.67 L310.20 218.67" stroke="#000" stroke-width="1.0" fill="none" />
<path d="M310.20 228.23 L307.50 228.23 L307.50 237.79 L310.20 237.79" stroke="#000" stroke-width="1.0" fill="none" />
<path d="M306.10 210.30 L303.50 210.30 L303.50 233.01 L307.50 233.01" stroke="#000" stroke-width="1.0" fill="none" />
<path d="M310.20 256.92 L306.30 256.92 L306.30 266.48 L310.20 266.48" stroke="#000" stroke-width="1.0" fill="none" />
<path d="M310.20 247.36 L305.60 247.36 L305.60 261.70 L306.30 261.70" stroke="#000" stroke-width="1.0" fill="none" />
<path d="M303.50 221.66 L297.60 221.66 L297.60 254.53 L305.60 254.53" stroke="#000" stroke-width="1.0" fill="none" />
<path d="M310.20 285.61 L308.90 285.61 L308.90 295.17 L310.20 295.17" stroke="#000" stroke-width="1.0" fill="none" />
<path d="M310.20 276.04 L306.30 276.04 L306.30 290.39 L308.90 290.39" stroke="#000" stroke-width="1.0" fill="none" />
<path d="M297.60 238.09 L297.30 238.09 L297.30 283.22 L306.30 283.22" stroke="#000" stroke-width="1.0" fill="none" />
<path d="M310.20 304.73 L307.30 304.73 L307.30 314.29 L310.20 314.29" stroke="#000" stroke-width="1.0" fill="none" />
<path d="M307.30 309.51 L303.80 309.51 L303.80 323.86 L310.20 323.86" stroke="#000" stroke-width="1.0" fill="none" />
<path d="M303.80 316.68 L295.40 316.68 L295.40 333.42 L310.20 333.42" stroke="#000" stroke-width="1.0" fill="none" />
<path d="M297.30 260.65 L283.20 260.65 L283.20 325.05 L295.40 325.05" stroke="#000" stroke-width="1.0" fill="none" />
<text x="325.00" y="347.50" font-size="6.3" text-anchor="middle" fill="#1a1a1a" >shCtr</text>
<text x="354.50" y="347.50" font-size="6.3" text-anchor="middle" fill="#1a1a1a" >shROR1 #2</text>
<line x1="311.00" y1="351.20" x2="368.70" y2="351.20" stroke="#000" stroke-width="1.1" />
<text x="339.80" y="360.00" font-size="6.3" text-anchor="middle" fill="#1a1a1a" >Jeko-1</text>
<rect x="499.20" y="185.00" width="5.30" height="78.30" fill="url(#gC)"/>
<text x="502.20" y="183.40" font-size="6.6" text-anchor="middle" fill="#333" textLength="13.40" lengthAdjust="spacingAndGlyphs" >DSS</text>
<text x="506.60" y="192.20" font-size="5.3" text-anchor="start" fill="#222" >35</text>
<text x="506.60" y="202.51" font-size="5.3" text-anchor="start" fill="#222" >30</text>
<text x="506.60" y="212.83" font-size="5.3" text-anchor="start" fill="#222" >25</text>
<text x="506.60" y="223.14" font-size="5.3" text-anchor="start" fill="#222" >20</text>
<text x="506.60" y="233.46" font-size="5.3" text-anchor="start" fill="#222" >15</text>
<text x="506.60" y="243.77" font-size="5.3" text-anchor="start" fill="#222" >10</text>
<text x="506.60" y="254.09" font-size="5.3" text-anchor="start" fill="#222" >5</text>
<text x="506.60" y="264.40" font-size="5.3" text-anchor="start" fill="#222" >0</text>
<!--REST-->
<line x1="38.75" y1="480.20" x2="38.75" y2="386.68" stroke="#000" stroke-width="1.35" />
<line x1="36.15" y1="479.60" x2="38.75" y2="479.60" stroke="#000" stroke-width="1.0" />
<text x="32.30" y="481.80" font-size="6.4" text-anchor="end" fill="#1a1a1a" >0</text>
<line x1="36.15" y1="464.53" x2="38.75" y2="464.53" stroke="#000" stroke-width="1.0" />
<text x="32.30" y="466.73" font-size="6.4" text-anchor="end" fill="#1a1a1a" >20</text>
<line x1="36.15" y1="449.46" x2="38.75" y2="449.46" stroke="#000" stroke-width="1.0" />
<text x="32.30" y="451.66" font-size="6.4" text-anchor="end" fill="#1a1a1a" >40</text>
<line x1="36.15" y1="434.39" x2="38.75" y2="434.39" stroke="#000" stroke-width="1.0" />
<text x="32.30" y="436.59" font-size="6.4" text-anchor="end" fill="#1a1a1a" >60</text>
<line x1="36.15" y1="419.32" x2="38.75" y2="419.32" stroke="#000" stroke-width="1.0" />
<text x="32.30" y="421.52" font-size="6.4" text-anchor="end" fill="#1a1a1a" >80</text>
<line x1="36.15" y1="404.25" x2="38.75" y2="404.25" stroke="#000" stroke-width="1.0" />
<text x="32.30" y="406.45" font-size="6.4" text-anchor="end" fill="#1a1a1a" >100</text>
<line x1="36.15" y1="389.18" x2="38.75" y2="389.18" stroke="#000" stroke-width="1.0" />
<text x="32.30" y="391.38" font-size="6.4" text-anchor="end" fill="#1a1a1a" >120</text>
<line x1="38.10" y1="479.60" x2="251.80" y2="479.60" stroke="#000" stroke-width="1.35" />
<text x="16.20" y="452.00" font-size="8.4" text-anchor="start" fill="#1a1a1a" font-weight="bold" textLength="37.20" lengthAdjust="spacingAndGlyphs" transform="rotate(-90 16.20 452.00)" >Viability (%)</text>
<rect x="45.00" y="404.25" width="5.40" height="75.35" fill="#4a2468"/>
<line x1="47.70" y1="404.25" x2="47.70" y2="401.99" stroke="#111" stroke-width="0.9" />
<line x1="46.30" y1="401.99" x2="49.10" y2="401.99" stroke="#111" stroke-width="0.9" />
<rect x="52.05" y="417.81" width="5.40" height="61.79" fill="#c00a32"/>
<line x1="54.75" y1="417.81" x2="54.75" y2="416.31" stroke="#111" stroke-width="0.9" />
<line x1="53.35" y1="416.31" x2="56.15" y2="416.31" stroke="#111" stroke-width="0.9" />
<rect x="59.10" y="404.25" width="5.40" height="75.35" fill="#2e4a8a"/>
<line x1="61.80" y1="404.25" x2="61.80" y2="402.74" stroke="#111" stroke-width="0.9" />
<line x1="60.40" y1="402.74" x2="63.20" y2="402.74" stroke="#111" stroke-width="0.9" />
<rect x="66.15" y="436.65" width="5.40" height="42.95" fill="#6aae48"/>
<line x1="68.85" y1="436.65" x2="68.85" y2="435.90" stroke="#111" stroke-width="0.9" />
<line x1="67.45" y1="435.90" x2="70.25" y2="435.90" stroke="#111" stroke-width="0.9" />
<rect x="73.20" y="454.73" width="5.40" height="24.87" fill="#9e90cc"/>
<line x1="75.90" y1="454.73" x2="75.90" y2="453.98" stroke="#111" stroke-width="0.9" />
<line x1="74.50" y1="453.98" x2="77.30" y2="453.98" stroke="#111" stroke-width="0.9" />
<rect x="80.25" y="475.08" width="5.40" height="4.52" fill="#e4a03c"/>
<line x1="82.95" y1="475.08" x2="82.95" y2="474.17" stroke="#111" stroke-width="0.9" />
<line x1="81.55" y1="474.17" x2="84.35" y2="474.17" stroke="#111" stroke-width="0.9" />
<rect x="98.20" y="404.25" width="5.40" height="75.35" fill="#4a2468"/>
<line x1="100.90" y1="404.25" x2="100.90" y2="400.48" stroke="#111" stroke-width="0.9" />
<line x1="99.50" y1="400.48" x2="102.30" y2="400.48" stroke="#111" stroke-width="0.9" />
<rect x="105.25" y="416.31" width="5.40" height="63.29" fill="#c00a32"/>
<line x1="107.95" y1="416.31" x2="107.95" y2="411.03" stroke="#111" stroke-width="0.9" />
<line x1="106.55" y1="411.03" x2="109.35" y2="411.03" stroke="#111" stroke-width="0.9" />
<rect x="112.30" y="413.29" width="5.40" height="66.31" fill="#2e4a8a"/>
<line x1="115.00" y1="413.29" x2="115.00" y2="407.26" stroke="#111" stroke-width="0.9" />
<line x1="113.60" y1="407.26" x2="116.40" y2="407.26" stroke="#111" stroke-width="0.9" />
<rect x="119.35" y="426.10" width="5.40" height="53.50" fill="#6aae48"/>
<line x1="122.05" y1="426.10" x2="122.05" y2="419.32" stroke="#111" stroke-width="0.9" />
<line x1="120.65" y1="419.32" x2="123.45" y2="419.32" stroke="#111" stroke-width="0.9" />
<rect x="126.40" y="459.26" width="5.40" height="20.34" fill="#9e90cc"/>
<line x1="129.10" y1="459.26" x2="129.10" y2="458.50" stroke="#111" stroke-width="0.9" />
<line x1="127.70" y1="458.50" x2="130.50" y2="458.50" stroke="#111" stroke-width="0.9" />
<rect x="133.45" y="475.83" width="5.40" height="3.77" fill="#e4a03c"/>
<line x1="136.15" y1="475.83" x2="136.15" y2="475.08" stroke="#111" stroke-width="0.9" />
<line x1="134.75" y1="475.08" x2="137.55" y2="475.08" stroke="#111" stroke-width="0.9" />
<rect x="151.40" y="404.25" width="5.40" height="75.35" fill="#4a2468"/>
<line x1="154.10" y1="404.25" x2="154.10" y2="398.98" stroke="#111" stroke-width="0.9" />
<line x1="152.70" y1="398.98" x2="155.50" y2="398.98" stroke="#111" stroke-width="0.9" />
<rect x="158.45" y="415.55" width="5.40" height="64.05" fill="#c00a32"/>
<line x1="161.15" y1="415.55" x2="161.15" y2="410.28" stroke="#111" stroke-width="0.9" />
<line x1="159.75" y1="410.28" x2="162.55" y2="410.28" stroke="#111" stroke-width="0.9" />
<rect x="165.50" y="411.03" width="5.40" height="68.57" fill="#2e4a8a"/>
<line x1="168.20" y1="411.03" x2="168.20" y2="408.77" stroke="#111" stroke-width="0.9" />
<line x1="166.80" y1="408.77" x2="169.60" y2="408.77" stroke="#111" stroke-width="0.9" />
<rect x="172.55" y="411.03" width="5.40" height="68.57" fill="#6aae48"/>
<line x1="175.25" y1="411.03" x2="175.25" y2="405.76" stroke="#111" stroke-width="0.9" />
<line x1="173.85" y1="405.76" x2="176.65" y2="405.76" stroke="#111" stroke-width="0.9" />
<rect x="179.60" y="426.86" width="5.40" height="52.74" fill="#9e90cc"/>
<line x1="182.30" y1="426.86" x2="182.30" y2="425.35" stroke="#111" stroke-width="0.9" />
<line x1="180.90" y1="425.35" x2="183.70" y2="425.35" stroke="#111" stroke-width="0.9" />
<rect x="186.65" y="446.45" width="5.40" height="33.15" fill="#e4a03c"/>
<line x1="189.35" y1="446.45" x2="189.35" y2="442.68" stroke="#111" stroke-width="0.9" />
<line x1="187.95" y1="442.68" x2="190.75" y2="442.68" stroke="#111" stroke-width="0.9" />
<rect x="204.60" y="404.25" width="5.40" height="75.35" fill="#4a2468"/>
<line x1="207.30" y1="404.25" x2="207.30" y2="403.50" stroke="#111" stroke-width="0.9" />
<line x1="205.90" y1="403.50" x2="208.70" y2="403.50" stroke="#111" stroke-width="0.9" />
<rect x="211.65" y="424.59" width="5.40" height="55.01" fill="#c00a32"/>
<line x1="214.35" y1="424.59" x2="214.35" y2="423.46" stroke="#111" stroke-width="0.9" />
<line x1="212.95" y1="423.46" x2="215.75" y2="423.46" stroke="#111" stroke-width="0.9" />
<rect x="218.70" y="432.13" width="5.40" height="47.47" fill="#2e4a8a"/>
<line x1="221.40" y1="432.13" x2="221.40" y2="431.38" stroke="#111" stroke-width="0.9" />
<line x1="220.00" y1="431.38" x2="222.80" y2="431.38" stroke="#111" stroke-width="0.9" />
<rect x="225.75" y="420.83" width="5.40" height="58.77" fill="#6aae48"/>
<line x1="228.45" y1="420.83" x2="228.45" y2="418.57" stroke="#111" stroke-width="0.9" />
<line x1="227.05" y1="418.57" x2="229.85" y2="418.57" stroke="#111" stroke-width="0.9" />
<rect x="232.80" y="466.04" width="5.40" height="13.56" fill="#9e90cc"/>
<line x1="235.50" y1="466.04" x2="235.50" y2="465.28" stroke="#111" stroke-width="0.9" />
<line x1="234.10" y1="465.28" x2="236.90" y2="465.28" stroke="#111" stroke-width="0.9" />
<rect x="239.85" y="457.00" width="5.40" height="22.60" fill="#e4a03c"/>
<line x1="242.55" y1="457.00" x2="242.55" y2="456.24" stroke="#111" stroke-width="0.9" />
<line x1="241.15" y1="456.24" x2="243.95" y2="456.24" stroke="#111" stroke-width="0.9" />
<text x="65.33" y="488.20" font-size="6.0" text-anchor="middle" fill="#1a1a1a" >Jeko-1</text>
<path d="M54.15 403.80 L54.15 388.00 L83.75 388.00 L83.75 395.80" stroke="#000" stroke-width="0.9" fill="none" />
<path d="M54.55 403.80 L54.55 396.80 L76.40 396.80 L76.40 404.40" stroke="#000" stroke-width="0.9" fill="none" />
<circle cx="65.75" cy="383.40" r="1.0" fill="#111"/>
<circle cx="68.95" cy="383.40" r="1.0" fill="#111"/>
<circle cx="72.15" cy="383.40" r="1.0" fill="#111"/>
<circle cx="62.08" cy="392.10" r="1.0" fill="#111"/>
<circle cx="65.28" cy="392.10" r="1.0" fill="#111"/>
<circle cx="68.48" cy="392.10" r="1.0" fill="#111"/>
<text x="118.52" y="488.20" font-size="6.0" text-anchor="middle" fill="#1a1a1a" >Mino</text>
<path d="M107.35 403.80 L107.35 388.00 L136.95 388.00 L136.95 395.80" stroke="#000" stroke-width="0.9" fill="none" />
<path d="M107.75 403.80 L107.75 396.80 L129.60 396.80 L129.60 404.40" stroke="#000" stroke-width="0.9" fill="none" />
<circle cx="120.55" cy="383.40" r="1.0" fill="#111"/>
<circle cx="123.75" cy="383.40" r="1.0" fill="#111"/>
<circle cx="116.88" cy="392.10" r="1.0" fill="#111"/>
<circle cx="120.08" cy="392.10" r="1.0" fill="#111"/>
<text x="171.73" y="488.20" font-size="6.0" text-anchor="middle" fill="#1a1a1a" >Maver-1</text>
<path d="M160.55 403.80 L160.55 388.00 L190.15 388.00 L190.15 395.80" stroke="#000" stroke-width="0.9" fill="none" />
<path d="M160.95 403.80 L160.95 396.80 L182.80 396.80 L182.80 404.40" stroke="#000" stroke-width="0.9" fill="none" />
<circle cx="173.75" cy="383.40" r="1.0" fill="#111"/>
<circle cx="176.95" cy="383.40" r="1.0" fill="#111"/>
<circle cx="171.68" cy="392.10" r="1.0" fill="#111"/>
<text x="224.93" y="488.20" font-size="6.0" text-anchor="middle" fill="#1a1a1a" >Z-138</text>
<path d="M213.75 403.80 L213.75 388.00 L243.35 388.00 L243.35 395.80" stroke="#000" stroke-width="0.9" fill="none" />
<path d="M214.15 403.80 L214.15 396.80 L236.00 396.80 L236.00 404.40" stroke="#000" stroke-width="0.9" fill="none" />
<circle cx="226.95" cy="383.40" r="1.0" fill="#111"/>
<circle cx="230.15" cy="383.40" r="1.0" fill="#111"/>
<circle cx="221.68" cy="392.10" r="1.0" fill="#111"/>
<circle cx="224.88" cy="392.10" r="1.0" fill="#111"/>
<circle cx="228.08" cy="392.10" r="1.0" fill="#111"/>
<rect x="43.00" y="495.20" width="2.60" height="2.60" fill="#4a2468"/>
<text x="47.20" y="498.30" font-size="5.4" text-anchor="start" fill="#1a1a1a" textLength="7.40" lengthAdjust="spacingAndGlyphs" >Ctr</text>
<rect x="60.80" y="495.20" width="2.60" height="2.60" fill="#c00a32"/>
<text x="64.50" y="498.30" font-size="5.4" text-anchor="start" fill="#1a1a1a" textLength="25.90" lengthAdjust="spacingAndGlyphs" >ROR1 2A2</text>
<rect x="96.80" y="495.20" width="2.60" height="2.60" fill="#2e4a8a"/>
<text x="100.80" y="498.30" font-size="5.4" text-anchor="start" fill="#1a1a1a" textLength="9.90" lengthAdjust="spacingAndGlyphs" >Ven</text>
<rect x="116.50" y="495.20" width="2.60" height="2.60" fill="#6aae48"/>
<text x="120.40" y="498.30" font-size="5.4" text-anchor="start" fill="#1a1a1a" textLength="9.20" lengthAdjust="spacingAndGlyphs" >Nav</text>
<rect x="140.60" y="495.20" width="2.60" height="2.60" fill="#9e90cc"/>
<text x="143.90" y="498.30" font-size="5.4" text-anchor="start" fill="#1a1a1a" textLength="36.90" lengthAdjust="spacingAndGlyphs" >ROR1 2A2 + Ven</text>
<rect x="190.80" y="495.20" width="2.60" height="2.60" fill="#e4a03c"/>
<text x="195.00" y="498.30" font-size="5.4" text-anchor="start" fill="#1a1a1a" textLength="41.30" lengthAdjust="spacingAndGlyphs" >ROR1 2A2 + Nav</text>
<line x1="313.00" y1="480.85" x2="313.00" y2="385.00" stroke="#000" stroke-width="1.35" />
<line x1="310.40" y1="480.25" x2="313.00" y2="480.25" stroke="#000" stroke-width="1.0" />
<text x="306.80" y="482.45" font-size="6.4" text-anchor="end" fill="#1a1a1a" >60</text>
<line x1="310.40" y1="461.70" x2="313.00" y2="461.70" stroke="#000" stroke-width="1.0" />
<text x="306.80" y="463.90" font-size="6.4" text-anchor="end" fill="#1a1a1a" >70</text>
<line x1="310.40" y1="443.15" x2="313.00" y2="443.15" stroke="#000" stroke-width="1.0" />
<text x="306.80" y="445.35" font-size="6.4" text-anchor="end" fill="#1a1a1a" >80</text>
<line x1="310.40" y1="424.60" x2="313.00" y2="424.60" stroke="#000" stroke-width="1.0" />
<text x="306.80" y="426.80" font-size="6.4" text-anchor="end" fill="#1a1a1a" >90</text>
<line x1="310.40" y1="406.05" x2="313.00" y2="406.05" stroke="#000" stroke-width="1.0" />
<text x="306.80" y="408.25" font-size="6.4" text-anchor="end" fill="#1a1a1a" >100</text>
<line x1="310.40" y1="387.50" x2="313.00" y2="387.50" stroke="#000" stroke-width="1.0" />
<text x="306.80" y="389.70" font-size="6.4" text-anchor="end" fill="#1a1a1a" >110</text>
<line x1="312.35" y1="480.25" x2="452.50" y2="480.25" stroke="#000" stroke-width="1.35" />
<line x1="326.75" y1="480.25" x2="326.75" y2="482.85" stroke="#000" stroke-width="1.0" />
<text x="326.75" y="491.80" font-size="6.2" text-anchor="middle" fill="#1a1a1a" >0.01</text>
<line x1="354.60" y1="480.25" x2="354.60" y2="482.85" stroke="#000" stroke-width="1.0" />
<text x="354.60" y="491.80" font-size="6.2" text-anchor="middle" fill="#1a1a1a" >0.1</text>
<line x1="382.50" y1="480.25" x2="382.50" y2="482.85" stroke="#000" stroke-width="1.0" />
<text x="382.50" y="491.80" font-size="6.2" text-anchor="middle" fill="#1a1a1a" >1</text>
<line x1="410.70" y1="480.25" x2="410.70" y2="482.85" stroke="#000" stroke-width="1.0" />
<text x="410.70" y="491.80" font-size="6.2" text-anchor="middle" fill="#1a1a1a" >10</text>
<line x1="438.80" y1="480.25" x2="438.80" y2="482.85" stroke="#000" stroke-width="1.0" />
<text x="438.80" y="491.80" font-size="6.2" text-anchor="middle" fill="#1a1a1a" >100</text>
<text x="352.70" y="503.60" font-size="8.0" text-anchor="start" fill="#1a1a1a" font-weight="bold" textLength="58.80" lengthAdjust="spacingAndGlyphs" >Conc. venetoclax (nM)</text>
<text x="290.40" y="450.50" font-size="8.0" text-anchor="start" fill="#1a1a1a" font-weight="bold" textLength="33.50" lengthAdjust="spacingAndGlyphs" transform="rotate(-90 290.40 450.50)" >Viability (%)</text>
<text x="367.50" y="385.00" font-size="9.0" text-anchor="start" fill="#111" textLength="30.00" lengthAdjust="spacingAndGlyphs" >MCL #2</text>
<path d="M326.75 408.83 L354.60 420.89 L382.50 423.67 L410.70 453.17 L438.80 468.75" stroke="#6a1242" stroke-width="1.9" fill="none" stroke-dasharray="2.9 1.4"/>
<path d="M326.75 414.40 L354.60 420.89 L382.50 425.53 L410.70 472.46 L438.80 462.44" stroke="#3c1c56" stroke-width="1.9" fill="none" stroke-dasharray="2.9 1.4"/>
<circle cx="326.75" cy="408.83" r="2.3" fill="#b00c3c"/>
<circle cx="354.60" cy="420.89" r="2.3" fill="#b00c3c"/>
<circle cx="382.50" cy="423.67" r="2.3" fill="#b00c3c"/>
<circle cx="410.70" cy="453.17" r="2.3" fill="#b00c3c"/>
<circle cx="438.80" cy="468.75" r="2.3" fill="#b00c3c"/>
<rect x="324.65" y="412.30" width="4.20" height="4.20" fill="#3e2868"/>
<rect x="352.50" y="418.79" width="4.20" height="4.20" fill="#3e2868"/>
<rect x="380.40" y="423.43" width="4.20" height="4.20" fill="#3e2868"/>
<rect x="408.60" y="470.36" width="4.20" height="4.20" fill="#3e2868"/>
<rect x="436.70" y="460.34" width="4.20" height="4.20" fill="#3e2868"/>
<path d="M423.8 393.8 H436.3" stroke="#6a1242" stroke-width="1.8" fill="none" stroke-dasharray="2.6 1.3"/>
<circle cx="430" cy="393.8" r="2.1" fill="#b00c3c"/>
<path d="M423.8 404.3 H436.3" stroke="#3c1c56" stroke-width="1.8" fill="none" stroke-dasharray="2.6 1.3"/>
<rect x="428.00" y="402.30" width="4.00" height="4.00" fill="#3e2868"/>
<text x="439.50" y="395.60" font-size="5.0" text-anchor="start" fill="#1a1a1a" textLength="10.00" lengthAdjust="spacingAndGlyphs" >siCtr</text>
<text x="439.50" y="406.10" font-size="5.0" text-anchor="start" fill="#1a1a1a" textLength="16.70" lengthAdjust="spacingAndGlyphs" >siROR1</text>
<line x1="38.75" y1="626.60" x2="38.75" y2="529.50" stroke="#000" stroke-width="1.35" />
<line x1="36.15" y1="626.00" x2="38.75" y2="626.00" stroke="#000" stroke-width="1.0" />
<text x="32.30" y="628.20" font-size="6.4" text-anchor="end" fill="#1a1a1a" >0</text>
<line x1="36.15" y1="612.57" x2="38.75" y2="612.57" stroke="#000" stroke-width="1.0" />
<text x="32.30" y="614.77" font-size="6.4" text-anchor="end" fill="#1a1a1a" >20</text>
<line x1="36.15" y1="599.14" x2="38.75" y2="599.14" stroke="#000" stroke-width="1.0" />
<text x="32.30" y="601.34" font-size="6.4" text-anchor="end" fill="#1a1a1a" >40</text>
<line x1="36.15" y1="585.72" x2="38.75" y2="585.72" stroke="#000" stroke-width="1.0" />
<text x="32.30" y="587.92" font-size="6.4" text-anchor="end" fill="#1a1a1a" >60</text>
<line x1="36.15" y1="572.29" x2="38.75" y2="572.29" stroke="#000" stroke-width="1.0" />
<text x="32.30" y="574.49" font-size="6.4" text-anchor="end" fill="#1a1a1a" >80</text>
<line x1="36.15" y1="558.86" x2="38.75" y2="558.86" stroke="#000" stroke-width="1.0" />
<text x="32.30" y="561.06" font-size="6.4" text-anchor="end" fill="#1a1a1a" >100</text>
<line x1="36.15" y1="545.43" x2="38.75" y2="545.43" stroke="#000" stroke-width="1.0" />
<text x="32.30" y="547.63" font-size="6.4" text-anchor="end" fill="#1a1a1a" >120</text>
<line x1="36.15" y1="532.00" x2="38.75" y2="532.00" stroke="#000" stroke-width="1.0" />
<text x="32.30" y="534.20" font-size="6.4" text-anchor="end" fill="#1a1a1a" >140</text>
<line x1="38.10" y1="626.00" x2="246.30" y2="626.00" stroke="#000" stroke-width="1.35" />
<text x="16.10" y="597.00" font-size="8.4" text-anchor="start" fill="#1a1a1a" font-weight="bold" textLength="37.20" lengthAdjust="spacingAndGlyphs" transform="rotate(-90 16.10 597.00)" >Viability (%)</text>
<rect x="45.00" y="558.86" width="6.10" height="67.14" fill="#4a2468"/>
<line x1="48.05" y1="558.86" x2="48.05" y2="556.17" stroke="#111" stroke-width="0.9" />
<line x1="46.65" y1="556.17" x2="49.45" y2="556.17" stroke="#111" stroke-width="0.9" />
<rect x="52.85" y="577.66" width="6.10" height="48.34" fill="#c00a32"/>
<line x1="55.90" y1="577.66" x2="55.90" y2="573.63" stroke="#111" stroke-width="0.9" />
<line x1="54.50" y1="573.63" x2="57.30" y2="573.63" stroke="#111" stroke-width="0.9" />
<rect x="60.70" y="559.53" width="6.10" height="66.47" fill="#2e4a8a"/>
<line x1="63.75" y1="559.53" x2="63.75" y2="557.52" stroke="#111" stroke-width="0.9" />
<line x1="62.35" y1="557.52" x2="65.15" y2="557.52" stroke="#111" stroke-width="0.9" />
<rect x="68.55" y="587.73" width="6.10" height="38.27" fill="#9e90cc"/>
<line x1="71.60" y1="587.73" x2="71.60" y2="587.06" stroke="#111" stroke-width="0.9" />
<line x1="70.20" y1="587.06" x2="73.00" y2="587.06" stroke="#111" stroke-width="0.9" />
<rect x="86.90" y="558.86" width="6.10" height="67.14" fill="#4a2468"/>
<line x1="89.95" y1="558.86" x2="89.95" y2="555.50" stroke="#111" stroke-width="0.9" />
<line x1="88.55" y1="555.50" x2="91.35" y2="555.50" stroke="#111" stroke-width="0.9" />
<rect x="94.75" y="585.72" width="6.10" height="40.28" fill="#c00a32"/>
<line x1="97.80" y1="585.72" x2="97.80" y2="581.69" stroke="#111" stroke-width="0.9" />
<line x1="96.40" y1="581.69" x2="99.20" y2="581.69" stroke="#111" stroke-width="0.9" />
<rect x="102.60" y="566.92" width="6.10" height="59.08" fill="#2e4a8a"/>
<line x1="105.65" y1="566.92" x2="105.65" y2="558.86" stroke="#111" stroke-width="0.9" />
<line x1="104.25" y1="558.86" x2="107.05" y2="558.86" stroke="#111" stroke-width="0.9" />
<rect x="110.45" y="591.76" width="6.10" height="34.24" fill="#9e90cc"/>
<line x1="113.50" y1="591.76" x2="113.50" y2="589.07" stroke="#111" stroke-width="0.9" />
<line x1="112.10" y1="589.07" x2="114.90" y2="589.07" stroke="#111" stroke-width="0.9" />
<rect x="128.60" y="558.86" width="6.10" height="67.14" fill="#4a2468"/>
<line x1="131.65" y1="558.86" x2="131.65" y2="558.19" stroke="#111" stroke-width="0.9" />
<line x1="130.25" y1="558.19" x2="133.05" y2="558.19" stroke="#111" stroke-width="0.9" />
<rect x="136.45" y="578.33" width="6.10" height="47.67" fill="#c00a32"/>
<line x1="139.50" y1="578.33" x2="139.50" y2="571.62" stroke="#111" stroke-width="0.9" />
<line x1="138.10" y1="571.62" x2="140.90" y2="571.62" stroke="#111" stroke-width="0.9" />
<rect x="144.30" y="559.53" width="6.10" height="66.47" fill="#2e4a8a"/>
<line x1="147.35" y1="559.53" x2="147.35" y2="544.09" stroke="#111" stroke-width="0.9" />
<line x1="145.95" y1="544.09" x2="148.75" y2="544.09" stroke="#111" stroke-width="0.9" />
<rect x="152.15" y="591.09" width="6.10" height="34.91" fill="#9e90cc"/>
<line x1="155.20" y1="591.09" x2="155.20" y2="583.03" stroke="#111" stroke-width="0.9" />
<line x1="153.80" y1="583.03" x2="156.60" y2="583.03" stroke="#111" stroke-width="0.9" />
<rect x="170.20" y="558.86" width="6.10" height="67.14" fill="#4a2468"/>
<line x1="173.25" y1="558.86" x2="173.25" y2="543.42" stroke="#111" stroke-width="0.9" />
<line x1="171.85" y1="543.42" x2="174.65" y2="543.42" stroke="#111" stroke-width="0.9" />
<rect x="178.05" y="560.87" width="6.10" height="65.13" fill="#c00a32"/>
<line x1="181.10" y1="560.87" x2="181.10" y2="553.49" stroke="#111" stroke-width="0.9" />
<line x1="179.70" y1="553.49" x2="182.50" y2="553.49" stroke="#111" stroke-width="0.9" />
<rect x="185.90" y="560.20" width="6.10" height="65.80" fill="#2e4a8a"/>
<line x1="188.95" y1="560.20" x2="188.95" y2="549.46" stroke="#111" stroke-width="0.9" />
<line x1="187.55" y1="549.46" x2="190.35" y2="549.46" stroke="#111" stroke-width="0.9" />
<rect x="193.75" y="562.22" width="6.10" height="63.78" fill="#9e90cc"/>
<line x1="196.80" y1="562.22" x2="196.80" y2="556.17" stroke="#111" stroke-width="0.9" />
<line x1="195.40" y1="556.17" x2="198.20" y2="556.17" stroke="#111" stroke-width="0.9" />
<rect x="211.80" y="558.86" width="6.10" height="67.14" fill="#4a2468"/>
<line x1="214.85" y1="558.86" x2="214.85" y2="552.82" stroke="#111" stroke-width="0.9" />
<line x1="213.45" y1="552.82" x2="216.25" y2="552.82" stroke="#111" stroke-width="0.9" />
<rect x="219.65" y="568.93" width="6.10" height="57.07" fill="#c00a32"/>
<line x1="222.70" y1="568.93" x2="222.70" y2="562.22" stroke="#111" stroke-width="0.9" />
<line x1="221.30" y1="562.22" x2="224.10" y2="562.22" stroke="#111" stroke-width="0.9" />
<rect x="227.50" y="565.57" width="6.10" height="60.43" fill="#2e4a8a"/>
<line x1="230.55" y1="565.57" x2="230.55" y2="560.87" stroke="#111" stroke-width="0.9" />
<line x1="229.15" y1="560.87" x2="231.95" y2="560.87" stroke="#111" stroke-width="0.9" />
<rect x="235.35" y="572.29" width="6.10" height="53.71" fill="#9e90cc"/>
<line x1="238.40" y1="572.29" x2="238.40" y2="568.26" stroke="#111" stroke-width="0.9" />
<line x1="237.00" y1="568.26" x2="239.80" y2="568.26" stroke="#111" stroke-width="0.9" />
<text x="59.82" y="634.90" font-size="6.9" text-anchor="middle" fill="#1a1a1a" >MCL #2</text>
<text x="101.73" y="634.90" font-size="6.9" text-anchor="middle" fill="#1a1a1a" >MCL #3</text>
<text x="143.43" y="634.90" font-size="6.9" text-anchor="middle" fill="#1a1a1a" >MCL #5</text>
<text x="185.03" y="634.90" font-size="6.9" text-anchor="middle" fill="#1a1a1a" >MCL #20</text>
<text x="226.63" y="634.90" font-size="6.9" text-anchor="middle" fill="#1a1a1a" >MCL #21</text>
<path d="M55.90 574.00 L55.90 552.50 L71.60 552.50 L71.60 586.50" stroke="#000" stroke-width="0.9" fill="none" />
<circle cx="63.75" cy="548.00" r="1.0" fill="#111"/>
<path d="M97.80 580.00 L97.80 555.00 L113.50 555.00 L113.50 589.50" stroke="#000" stroke-width="0.9" fill="none" />
<circle cx="105.65" cy="550.50" r="1.0" fill="#111"/>
<path d="M139.50 570.00 L139.50 537.50 L155.20 537.50 L155.20 582.50" stroke="#000" stroke-width="0.9" fill="none" />
<circle cx="147.35" cy="533.00" r="1.0" fill="#111"/>
<rect x="75.60" y="648.30" width="3.00" height="3.00" fill="#4a2468"/>
<text x="81.90" y="651.90" font-size="5.4" text-anchor="start" fill="#1a1a1a" textLength="6.90" lengthAdjust="spacingAndGlyphs" >Ctr</text>
<rect x="97.50" y="648.30" width="3.00" height="3.00" fill="#c00a32"/>
<text x="104.30" y="651.90" font-size="5.4" text-anchor="start" fill="#1a1a1a" textLength="26.70" lengthAdjust="spacingAndGlyphs" >ROR1 2A2</text>
<rect x="140.20" y="648.30" width="3.00" height="3.00" fill="#2e4a8a"/>
<text x="146.50" y="651.90" font-size="5.4" text-anchor="start" fill="#1a1a1a" textLength="8.70" lengthAdjust="spacingAndGlyphs" >Ven</text>
<rect x="166.20" y="648.30" width="3.00" height="3.00" fill="#9e90cc"/>
<text x="172.50" y="651.90" font-size="5.4" text-anchor="start" fill="#1a1a1a" textLength="38.80" lengthAdjust="spacingAndGlyphs" >ROR1 2A2+Ven</text>
<line x1="313.00" y1="626.10" x2="313.00" y2="545.00" stroke="#000" stroke-width="1.35" />
<line x1="310.40" y1="625.50" x2="313.00" y2="625.50" stroke="#000" stroke-width="1.0" />
<text x="306.90" y="627.70" font-size="6.4" text-anchor="end" fill="#1a1a1a" >0</text>
<line x1="310.40" y1="612.50" x2="313.00" y2="612.50" stroke="#000" stroke-width="1.0" />
<text x="306.90" y="614.70" font-size="6.4" text-anchor="end" fill="#1a1a1a" >20</text>
<line x1="310.40" y1="599.50" x2="313.00" y2="599.50" stroke="#000" stroke-width="1.0" />
<text x="306.90" y="601.70" font-size="6.4" text-anchor="end" fill="#1a1a1a" >40</text>
<line x1="310.40" y1="586.50" x2="313.00" y2="586.50" stroke="#000" stroke-width="1.0" />
<text x="306.90" y="588.70" font-size="6.4" text-anchor="end" fill="#1a1a1a" >60</text>
<line x1="310.40" y1="573.50" x2="313.00" y2="573.50" stroke="#000" stroke-width="1.0" />
<text x="306.90" y="575.70" font-size="6.4" text-anchor="end" fill="#1a1a1a" >80</text>
<line x1="310.40" y1="560.50" x2="313.00" y2="560.50" stroke="#000" stroke-width="1.0" />
<text x="306.90" y="562.70" font-size="6.4" text-anchor="end" fill="#1a1a1a" >100</text>
<line x1="310.40" y1="547.50" x2="313.00" y2="547.50" stroke="#000" stroke-width="1.0" />
<text x="306.90" y="549.70" font-size="6.4" text-anchor="end" fill="#1a1a1a" >120</text>
<line x1="312.35" y1="625.50" x2="477.80" y2="625.50" stroke="#000" stroke-width="1.35" />
<text x="289.00" y="602.00" font-size="8.0" text-anchor="start" fill="#1a1a1a" font-weight="bold" textLength="33.40" lengthAdjust="spacingAndGlyphs" transform="rotate(-90 289.00 602.00)" >Viability (%)</text>
<text x="380.00" y="528.80" font-size="9.0" text-anchor="start" fill="#111" textLength="30.80" lengthAdjust="spacingAndGlyphs" >MCL #5</text>
<rect x="321.25" y="560.50" width="10.50" height="65.00" fill="#4a2468"/>
<line x1="326.50" y1="560.50" x2="326.50" y2="549.45" stroke="#111" stroke-width="0.9" />
<line x1="325.10" y1="549.45" x2="327.90" y2="549.45" stroke="#111" stroke-width="0.9" />
<rect x="335.00" y="560.50" width="10.50" height="65.00" fill="#c00a32"/>
<line x1="340.25" y1="560.50" x2="340.25" y2="555.95" stroke="#111" stroke-width="0.9" />
<line x1="338.85" y1="555.95" x2="341.65" y2="555.95" stroke="#111" stroke-width="0.9" />
<rect x="362.50" y="583.25" width="10.50" height="42.25" fill="#4a2468"/>
<line x1="367.75" y1="583.25" x2="367.75" y2="576.10" stroke="#111" stroke-width="0.9" />
<line x1="366.35" y1="576.10" x2="369.15" y2="576.10" stroke="#111" stroke-width="0.9" />
<rect x="376.25" y="574.80" width="10.50" height="50.70" fill="#c00a32"/>
<line x1="381.50" y1="574.80" x2="381.50" y2="573.17" stroke="#111" stroke-width="0.9" />
<line x1="380.10" y1="573.17" x2="382.90" y2="573.17" stroke="#111" stroke-width="0.9" />
<rect x="403.75" y="567.00" width="10.50" height="58.50" fill="#4a2468"/>
<line x1="409.00" y1="567.00" x2="409.00" y2="552.70" stroke="#111" stroke-width="0.9" />
<line x1="407.60" y1="552.70" x2="410.40" y2="552.70" stroke="#111" stroke-width="0.9" />
<rect x="417.50" y="565.05" width="10.50" height="60.45" fill="#c00a32"/>
<line x1="422.75" y1="565.05" x2="422.75" y2="560.50" stroke="#111" stroke-width="0.9" />
<line x1="421.35" y1="560.50" x2="424.15" y2="560.50" stroke="#111" stroke-width="0.9" />
<rect x="445.00" y="594.95" width="10.50" height="30.55" fill="#4a2468"/>
<line x1="450.25" y1="594.95" x2="450.25" y2="587.80" stroke="#111" stroke-width="0.9" />
<line x1="448.85" y1="587.80" x2="451.65" y2="587.80" stroke="#111" stroke-width="0.9" />
<rect x="458.75" y="586.50" width="10.50" height="39.00" fill="#c00a32"/>
<line x1="464.00" y1="586.50" x2="464.00" y2="585.20" stroke="#111" stroke-width="0.9" />
<line x1="462.60" y1="585.20" x2="465.40" y2="585.20" stroke="#111" stroke-width="0.9" />
<path d="M340.60 547.00 L340.60 539.40 L464.10 539.40 L464.10 547.00" stroke="#000" stroke-width="0.9" fill="none" />
<path d="M340.60 555.20 L340.60 547.60 L464.10 547.60 L464.10 584.50" stroke="#000" stroke-width="0.9" fill="none" />
<line x1="381.90" y1="547.60" x2="381.90" y2="571.50" stroke="#000" stroke-width="2.1" />
<circle cx="402.10" cy="535.10" r="1.0" fill="#111"/>
<circle cx="360.90" cy="543.00" r="1.0" fill="#111"/>
<circle cx="421.00" cy="543.00" r="1.0" fill="#111"/>
<circle cx="424.20" cy="543.00" r="1.0" fill="#111"/>
<text x="333.75" y="634.90" font-size="6.4" text-anchor="middle" fill="#1a1a1a" >Ctr</text>
<text x="374.20" y="634.90" font-size="6.4" text-anchor="middle" fill="#1a1a1a" >ROR1 2A2</text>
<text x="415.90" y="634.90" font-size="6.4" text-anchor="middle" fill="#1a1a1a" >venetoclax</text>
<text x="457.20" y="634.90" font-size="6.4" text-anchor="middle" fill="#1a1a1a" >ROR1 2A2 +</text>
<text x="457.00" y="642.30" font-size="6.4" text-anchor="middle" fill="#1a1a1a" >venetoclax</text>
<rect x="349.50" y="648.50" width="3.00" height="3.00" fill="#4a2468"/>
<text x="356.30" y="652.00" font-size="5.4" text-anchor="start" fill="#1a1a1a" textLength="12.50" lengthAdjust="spacingAndGlyphs" >alone</text>
<rect x="377.50" y="648.50" width="3.00" height="3.00" fill="#c00a32"/>
<text x="384.50" y="652.00" font-size="5.4" text-anchor="start" fill="#1a1a1a" textLength="56.30" lengthAdjust="spacingAndGlyphs" >with CD40L + cytokines</text>
</svg>
<svg class="brd" width="520" height="660" viewBox="0 0 520 660"><rect x="0" y="0" width="520" height="1.3" fill="#000"/><rect x="0" y="0" width="1.3" height="660" fill="#000"/><rect x="518.3" y="0" width="1.7" height="660" fill="#000"/><rect x="0" y="658.2" width="520" height="1.8" fill="#000"/></svg>
</body></html>
